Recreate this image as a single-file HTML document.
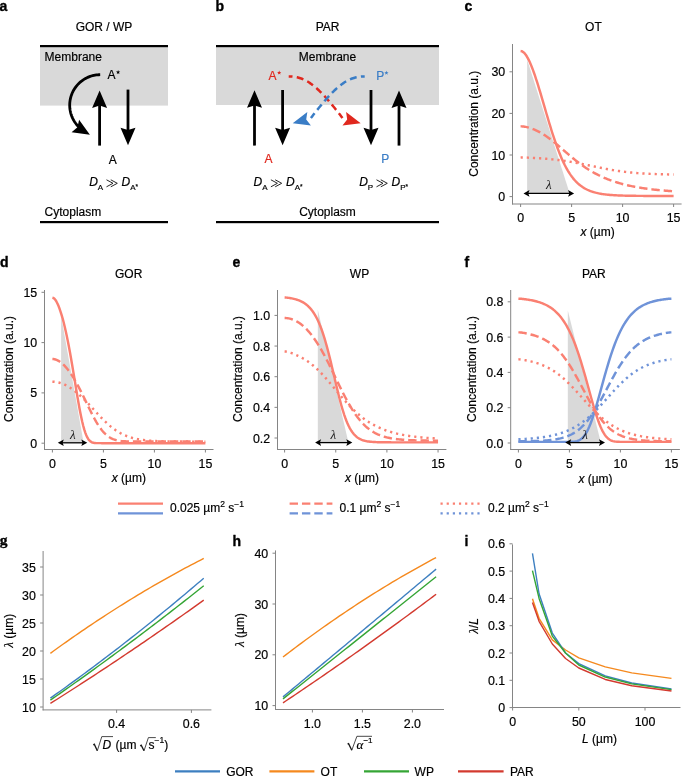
<!DOCTYPE html>
<html><head><meta charset="utf-8"><style>
html,body{margin:0;padding:0;background:#fff;}
svg{display:block;will-change:transform;}
</style></head><body>
<svg width="685" height="776" viewBox="0 0 685 776" font-family="Liberation Sans, sans-serif">
<rect width="685" height="776" fill="#fff"/>
<text x="-0.6" y="11.2" font-size="14" font-weight="bold" fill="#000" stroke="#000" stroke-width="0.35" stroke-linejoin="round" font-family="Liberation Sans">a</text>
<text x="104" y="31" font-size="12" text-anchor="middle" font-weight="normal" font-style="normal" fill="#000" stroke="#000" stroke-width="0.18" font-family="Liberation Sans" >GOR / WP</text>
<rect x="40" y="47" width="128" height="58.6" fill="#d9d9d9"/>
<rect x="40" y="45" width="128" height="2.2" fill="#000"/>
<rect x="40" y="221" width="128" height="2.2" fill="#000"/>
<text x="44.6" y="60.5" font-size="12" text-anchor="start" font-weight="normal" font-style="normal" fill="#000" stroke="#000" stroke-width="0.18" font-family="Liberation Sans" >Membrane</text>
<text x="107.5" y="79" font-size="12" text-anchor="start" font-weight="normal" font-style="normal" fill="#000" stroke="#000" stroke-width="0.18" font-family="Liberation Sans" >A</text>
<polygon points="118.1,70.05 118.66,71.53 120.24,71.6 119,72.59 119.42,74.12 118.1,73.25 116.78,74.12 117.2,72.59 115.96,71.6 117.54,71.53" fill="#000"/>
<path d="M100.2,74.7 L98.92,74.73 L97.64,74.81 L96.37,74.94 L95.1,75.13 L93.84,75.37 L92.59,75.66 L91.36,76.01 L90.14,76.41 L88.94,76.85 L87.76,77.35 L86.6,77.9 L85.47,78.49 L84.36,79.14 L83.28,79.82 L82.23,80.56 L81.21,81.33 L80.22,82.15 L79.27,83.01 L78.36,83.91 L77.49,84.85 L76.65,85.82 L75.86,86.82 L75.11,87.86 L74.4,88.93 L73.74,90.03 L73.13,91.15 L72.56,92.3 L72.04,93.47 L71.58,94.67 L71.16,95.88 L70.79,97.11 L70.48,98.35 L70.22,99.6 L70.01,100.87 L69.85,102.14 L69.75,103.41 L69.7,104.69 L69.71,105.98 L69.77,107.26 L69.88,108.53 L70.05,109.8 L70.27,111.06 L70.54,112.32 L70.87,113.55 L71.24,114.78 L71.67,115.99 L72.15,117.18 L72.68,118.34 L73.25,119.49 L73.88,120.61 L74.55,121.7 L75.26,122.76 L76.02,123.79 L76.82,124.79 L77.67,125.76 L78.55,126.68 L79.47,127.57 L80.43,128.42 L81.42,129.23" fill="none" stroke="#000" stroke-width="2.8" stroke-linecap="butt" stroke-linejoin="round" />
<polygon points="89.9,134.8 71.57,132.3 77.47,127.33 79.09,119.79" fill="#000"/>
<line x1="99.6" y1="145.6" x2="99.6" y2="105.1" stroke="#000" stroke-width="2.8" />
<polygon points="99.6,90.4 107.1,107.9 99.6,105.6 92.1,107.9" fill="#000"/>
<line x1="128" y1="89.6" x2="128" y2="130.5" stroke="#000" stroke-width="2.8" />
<polygon points="128,145.2 120.5,127.7 128,130 135.5,127.7" fill="#000"/>
<text x="108.8" y="163.6" font-size="12" text-anchor="start" font-weight="normal" font-style="normal" fill="#000" stroke="#000" stroke-width="0.18" font-family="Liberation Sans" >A</text>
<text x="89.2" y="186.2" font-size="12" text-anchor="start" font-weight="normal" font-style="normal" fill="#000" stroke="#000" stroke-width="0.18" font-family="Liberation Sans" ><tspan font-style="italic">D</tspan><tspan font-size="8" dy="3.4">A</tspan></text>
<path d="M106.5,179.8 L113,183.3 L106.5,186.8" fill="none" stroke="#1a1a1a" stroke-width="0.95" stroke-linejoin="miter"/>
<path d="M110.8,179.8 L117.3,183.3 L110.8,186.8" fill="none" stroke="#1a1a1a" stroke-width="0.95" stroke-linejoin="miter"/>
<text x="121.6" y="186.2" font-size="12" text-anchor="start" font-weight="normal" font-style="normal" fill="#000" stroke="#000" stroke-width="0.18" font-family="Liberation Sans" ><tspan font-style="italic">D</tspan><tspan font-size="8" dy="3.4">A</tspan><tspan font-size="6.5" dy="-0.4">*</tspan></text>
<text x="44.6" y="215.5" font-size="12" text-anchor="start" font-weight="normal" font-style="normal" fill="#000" stroke="#000" stroke-width="0.18" font-family="Liberation Sans" >Cytoplasm</text>
<text x="215.4" y="10.9" font-size="14" font-weight="bold" fill="#000" stroke="#000" stroke-width="0.35" stroke-linejoin="round" font-family="Liberation Sans">b</text>
<text x="327.6" y="31" font-size="12" text-anchor="middle" font-weight="normal" font-style="normal" fill="#000" stroke="#000" stroke-width="0.18" font-family="Liberation Sans" >PAR</text>
<rect x="216" y="47" width="223" height="58" fill="#d9d9d9"/>
<rect x="216" y="45" width="223" height="2.2" fill="#000"/>
<rect x="216" y="221" width="223" height="2.2" fill="#000"/>
<text x="327.5" y="60.5" font-size="12" text-anchor="middle" font-weight="normal" font-style="normal" fill="#000" stroke="#000" stroke-width="0.18" font-family="Liberation Sans" >Membrane</text>
<text x="268.5" y="80" font-size="12" text-anchor="start" font-weight="normal" font-style="normal" fill="#e0281e" stroke="#e0281e" stroke-width="0.18" font-family="Liberation Sans" >A</text>
<polygon points="279.2,70.55 279.76,72.03 281.34,72.1 280.1,73.09 280.52,74.62 279.2,73.75 277.88,74.62 278.3,73.09 277.06,72.1 278.64,72.03" fill="#e0281e"/>
<text x="376.2" y="80" font-size="12" text-anchor="start" font-weight="normal" font-style="normal" fill="#3a7dc6" stroke="#3a7dc6" stroke-width="0.18" font-family="Liberation Sans" >P</text>
<polygon points="386.4,70.65 386.96,72.13 388.54,72.2 387.3,73.19 387.72,74.72 386.4,73.85 385.08,74.72 385.5,73.19 384.26,72.2 385.84,72.13" fill="#3a7dc6"/>
<line x1="254.5" y1="145.6" x2="254.5" y2="104.9" stroke="#000" stroke-width="2.8" />
<polygon points="254.5,90.2 262,107.7 254.5,105.4 247,107.7" fill="#000"/>
<line x1="282.6" y1="90" x2="282.6" y2="130.5" stroke="#000" stroke-width="2.8" />
<polygon points="282.6,145.2 275.1,127.7 282.6,130 290.1,127.7" fill="#000"/>
<line x1="371" y1="90" x2="371" y2="130.5" stroke="#000" stroke-width="2.8" />
<polygon points="371,145.2 363.5,127.7 371,130 378.5,127.7" fill="#000"/>
<line x1="399" y1="145.6" x2="399" y2="105.1" stroke="#000" stroke-width="2.8" />
<polygon points="399,90.4 406.5,107.9 399,105.6 391.5,107.9" fill="#000"/>
<text x="264.6" y="163.4" font-size="12" text-anchor="start" font-weight="normal" font-style="normal" fill="#e0281e" stroke="#e0281e" stroke-width="0.18" font-family="Liberation Sans" >A</text>
<text x="381.2" y="163.4" font-size="12" text-anchor="start" font-weight="normal" font-style="normal" fill="#3a7dc6" stroke="#3a7dc6" stroke-width="0.18" font-family="Liberation Sans" >P</text>
<path d="M288.7,76.4 L289.58,76.41 L290.44,76.43 L291.3,76.48 L292.15,76.54 L292.99,76.61 L293.83,76.71 L294.66,76.83 L295.49,76.96 L296.31,77.12 L297.13,77.29 L297.94,77.48 L298.75,77.7 L299.55,77.94 L300.36,78.19 L301.16,78.47 L301.96,78.77 L302.76,79.1 L303.56,79.44 L304.36,79.81 L305.16,80.21 L305.96,80.63 L306.76,81.07 L307.57,81.53 L308.38,82.03 L309.19,82.54 L310.01,83.09 L310.83,83.66 L311.65,84.25 L312.48,84.88 L313.32,85.53 L314.16,86.21 L315.01,86.91 L315.87,87.65 L316.73,88.41 L317.61,89.21 L318.49,90.03 L319.38,90.88 L320.29,91.77 L321.2,92.68 L322.13,93.63 L323.06,94.6 L324.01,95.61 L324.97,96.65 L325.94,97.73 L326.93,98.83 L327.94,99.97 L328.95,101.15 L329.98,102.35 L331.03,103.6 L332.1,104.87 L333.18,106.19 L334.28,107.53 L335.39,108.92 L336.53,110.34 L337.68,111.8 L338.86,113.29 L340.05,114.82 L341.26,116.39 L342.5,118" fill="none" stroke="#e0281e" stroke-width="2.5" stroke-linecap="butt" stroke-linejoin="round" stroke-dasharray="3.8 4.3 7 4.3 7 4.3 7 4.3 7 4.3 7 4.3 7 4.3 7 4.3 7 4.3" />
<polygon points="360.7,123.2 342.47,125.56 347.18,119.58 346.09,112.04" fill="#e0281e"/>
<path d="M364.7,76.4 L363.82,76.41 L362.96,76.43 L362.1,76.48 L361.25,76.54 L360.41,76.61 L359.57,76.71 L358.74,76.83 L357.91,76.96 L357.09,77.12 L356.27,77.29 L355.46,77.48 L354.65,77.7 L353.85,77.94 L353.04,78.19 L352.24,78.47 L351.44,78.77 L350.64,79.1 L349.84,79.44 L349.04,79.81 L348.24,80.21 L347.44,80.63 L346.64,81.07 L345.83,81.53 L345.02,82.03 L344.21,82.54 L343.39,83.09 L342.57,83.66 L341.75,84.25 L340.92,84.88 L340.08,85.53 L339.24,86.21 L338.39,86.91 L337.53,87.65 L336.67,88.41 L335.79,89.21 L334.91,90.03 L334.02,90.88 L333.11,91.77 L332.2,92.68 L331.27,93.63 L330.34,94.6 L329.39,95.61 L328.43,96.65 L327.46,97.73 L326.47,98.83 L325.46,99.97 L324.45,101.15 L323.42,102.35 L322.37,103.6 L321.3,104.87 L320.22,106.19 L319.12,107.53 L318.01,108.92 L316.87,110.34 L315.72,111.8 L314.54,113.29 L313.35,114.82 L312.14,116.39 L310.9,118" fill="none" stroke="#3a7dc6" stroke-width="2.5" stroke-linecap="butt" stroke-linejoin="round" stroke-dasharray="3.8 4.3 7 4.3 7 4.3 7 4.3 7 4.3 7 4.3 7 4.3 7 4.3 7 4.3" />
<polygon points="292.7,123.2 307.31,112.04 306.22,119.58 310.93,125.56" fill="#3a7dc6"/>
<text x="253.6" y="186.2" font-size="12" text-anchor="start" font-weight="normal" font-style="normal" fill="#000" stroke="#000" stroke-width="0.18" font-family="Liberation Sans" ><tspan font-style="italic">D</tspan><tspan font-size="8" dy="3.4">A</tspan></text>
<path d="M270.9,179.8 L277.4,183.3 L270.9,186.8" fill="none" stroke="#1a1a1a" stroke-width="0.95" stroke-linejoin="miter"/>
<path d="M275.2,179.8 L281.7,183.3 L275.2,186.8" fill="none" stroke="#1a1a1a" stroke-width="0.95" stroke-linejoin="miter"/>
<text x="286" y="186.2" font-size="12" text-anchor="start" font-weight="normal" font-style="normal" fill="#000" stroke="#000" stroke-width="0.18" font-family="Liberation Sans" ><tspan font-style="italic">D</tspan><tspan font-size="8" dy="3.4">A</tspan><tspan font-size="6.5" dy="-0.4">*</tspan></text>
<text x="359.2" y="186.2" font-size="12" text-anchor="start" font-weight="normal" font-style="normal" fill="#000" stroke="#000" stroke-width="0.18" font-family="Liberation Sans" ><tspan font-style="italic">D</tspan><tspan font-size="8" dy="3.4">P</tspan></text>
<path d="M376.5,179.8 L383,183.3 L376.5,186.8" fill="none" stroke="#1a1a1a" stroke-width="0.95" stroke-linejoin="miter"/>
<path d="M380.8,179.8 L387.3,183.3 L380.8,186.8" fill="none" stroke="#1a1a1a" stroke-width="0.95" stroke-linejoin="miter"/>
<text x="391.6" y="186.2" font-size="12" text-anchor="start" font-weight="normal" font-style="normal" fill="#000" stroke="#000" stroke-width="0.18" font-family="Liberation Sans" ><tspan font-style="italic">D</tspan><tspan font-size="8" dy="3.4">P</tspan><tspan font-size="6.5" dy="-0.4">*</tspan></text>
<text x="327.5" y="215.5" font-size="12" text-anchor="middle" font-weight="normal" font-style="normal" fill="#000" stroke="#000" stroke-width="0.18" font-family="Liberation Sans" >Cytoplasm</text>
<text x="464.4" y="11.3" font-size="14" font-weight="bold" fill="#000" stroke="#000" stroke-width="0.35" stroke-linejoin="round" font-family="Liberation Sans">c</text>
<polygon points="527.1,59.4 527.1,193.4 569.7,193.4" fill="#d9d9d9"/>
<line x1="512.5" y1="44" x2="512.5" y2="204.5" stroke="#858585" stroke-width="1" />
<line x1="512" y1="204" x2="681.6" y2="204" stroke="#858585" stroke-width="1" />
<line x1="509.5" y1="196.6" x2="512.5" y2="196.6" stroke="#858585" stroke-width="1" />
<text x="505.2" y="201.1" font-size="12.4" text-anchor="end" font-weight="normal" font-style="normal" fill="#000" stroke="#000" stroke-width="0.18" font-family="Liberation Sans" >0</text>
<line x1="509.5" y1="155" x2="512.5" y2="155" stroke="#858585" stroke-width="1" />
<text x="505.2" y="159.5" font-size="12.4" text-anchor="end" font-weight="normal" font-style="normal" fill="#000" stroke="#000" stroke-width="0.18" font-family="Liberation Sans" >10</text>
<line x1="509.5" y1="113.4" x2="512.5" y2="113.4" stroke="#858585" stroke-width="1" />
<text x="505.2" y="117.9" font-size="12.4" text-anchor="end" font-weight="normal" font-style="normal" fill="#000" stroke="#000" stroke-width="0.18" font-family="Liberation Sans" >20</text>
<line x1="509.5" y1="71.8" x2="512.5" y2="71.8" stroke="#858585" stroke-width="1" />
<text x="505.2" y="76.3" font-size="12.4" text-anchor="end" font-weight="normal" font-style="normal" fill="#000" stroke="#000" stroke-width="0.18" font-family="Liberation Sans" >30</text>
<line x1="520.6" y1="204" x2="520.6" y2="207" stroke="#858585" stroke-width="1" />
<text x="520.6" y="222" font-size="12.4" text-anchor="middle" font-weight="normal" font-style="normal" fill="#000" stroke="#000" stroke-width="0.18" font-family="Liberation Sans" >0</text>
<line x1="571.6" y1="204" x2="571.6" y2="207" stroke="#858585" stroke-width="1" />
<text x="571.6" y="222" font-size="12.4" text-anchor="middle" font-weight="normal" font-style="normal" fill="#000" stroke="#000" stroke-width="0.18" font-family="Liberation Sans" >5</text>
<line x1="622.6" y1="204" x2="622.6" y2="207" stroke="#858585" stroke-width="1" />
<text x="622.6" y="222" font-size="12.4" text-anchor="middle" font-weight="normal" font-style="normal" fill="#000" stroke="#000" stroke-width="0.18" font-family="Liberation Sans" >10</text>
<line x1="673.6" y1="204" x2="673.6" y2="207" stroke="#858585" stroke-width="1" />
<text x="673.6" y="222" font-size="12.4" text-anchor="middle" font-weight="normal" font-style="normal" fill="#000" stroke="#000" stroke-width="0.18" font-family="Liberation Sans" >15</text>
<text transform="translate(478,123.7) rotate(-90)" font-size="12" text-anchor="middle" fill="#000" stroke="#000" stroke-width="0.18" font-family="Liberation Sans">Concentration (a.u.)</text>
<text x="597.6" y="236.4" font-size="12" text-anchor="middle" font-weight="normal" font-style="normal" fill="#000" stroke="#000" stroke-width="0.18" font-family="Liberation Sans" ><tspan font-style="italic">x</tspan> (µm)</text>
<text x="593.4" y="31" font-size="12" text-anchor="middle" font-weight="normal" font-style="normal" fill="#000" stroke="#000" stroke-width="0.18" font-family="Liberation Sans" >OT</text>
<path d="M520.6,157.4 L521.63,157.41 L522.65,157.43 L523.68,157.46 L524.71,157.49 L525.73,157.53 L526.76,157.58 L527.79,157.63 L528.81,157.68 L529.84,157.73 L530.87,157.78 L531.9,157.83 L532.92,157.89 L533.95,157.95 L534.98,158.01 L536,158.07 L537.03,158.13 L538.06,158.2 L539.08,158.26 L540.11,158.33 L541.14,158.41 L542.16,158.48 L543.19,158.56 L544.22,158.64 L545.24,158.72 L546.27,158.81 L547.3,158.9 L548.32,158.99 L549.35,159.08 L550.38,159.18 L551.41,159.28 L552.43,159.39 L553.46,159.5 L554.49,159.61 L555.51,159.72 L556.54,159.84 L557.57,159.97 L558.59,160.09 L559.62,160.22 L560.65,160.36 L561.67,160.49 L562.7,160.64 L563.73,160.78 L564.75,160.93 L565.78,161.08 L566.81,161.24 L567.83,161.4 L568.86,161.56 L569.89,161.73 L570.92,161.9 L571.94,162.08 L572.97,162.25 L574,162.44 L575.02,162.62 L576.05,162.81 L577.08,163 L578.1,163.19 L579.13,163.39 L580.16,163.59 L581.18,163.79 L582.21,164 L583.24,164.2 L584.26,164.41 L585.29,164.62 L586.32,164.83 L587.34,165.04 L588.37,165.26 L589.4,165.47 L590.43,165.69 L591.45,165.9 L592.48,166.12 L593.51,166.34 L594.53,166.55 L595.56,166.77 L596.59,166.98 L597.61,167.19 L598.64,167.4 L599.67,167.61 L600.69,167.82 L601.72,168.03 L602.75,168.23 L603.77,168.44 L604.8,168.64 L605.83,168.83 L606.86,169.03 L607.88,169.22 L608.91,169.41 L609.94,169.59 L610.96,169.77 L611.99,169.95 L613.02,170.12 L614.04,170.29 L615.07,170.46 L616.1,170.62 L617.12,170.78 L618.15,170.93 L619.18,171.08 L620.2,171.23 L621.23,171.37 L622.26,171.51 L623.28,171.64 L624.31,171.77 L625.34,171.9 L626.37,172.02 L627.39,172.13 L628.42,172.25 L629.45,172.36 L630.47,172.46 L631.5,172.57 L632.53,172.66 L633.55,172.76 L634.58,172.85 L635.61,172.94 L636.63,173.02 L637.66,173.1 L638.69,173.18 L639.71,173.26 L640.74,173.33 L641.77,173.4 L642.79,173.46 L643.82,173.53 L644.85,173.59 L645.88,173.64 L646.9,173.7 L647.93,173.75 L648.96,173.8 L649.98,173.85 L651.01,173.9 L652.04,173.94 L653.06,173.98 L654.09,174.02 L655.12,174.06 L656.14,174.1 L657.17,174.13 L658.2,174.17 L659.22,174.2 L660.25,174.23 L661.28,174.26 L662.3,174.29 L663.33,174.31 L664.36,174.34 L665.39,174.36 L666.41,174.38 L667.44,174.4 L668.47,174.42 L669.49,174.44 L670.52,174.46 L671.55,174.48 L672.57,174.5 L673.6,174.51" fill="none" stroke="#fa8072" stroke-width="2.45" stroke-linecap="butt" stroke-linejoin="round" stroke-dasharray="2.2 3.95" />
<path d="M520.6,126.32 L521.63,126.35 L522.65,126.42 L523.68,126.54 L524.71,126.7 L525.73,126.89 L526.76,127.12 L527.79,127.38 L528.81,127.66 L529.84,127.97 L530.87,128.31 L531.9,128.67 L532.92,129.06 L533.95,129.47 L534.98,129.9 L536,130.36 L537.03,130.84 L538.06,131.34 L539.08,131.87 L540.11,132.43 L541.14,133.01 L542.16,133.61 L543.19,134.23 L544.22,134.88 L545.24,135.55 L546.27,136.24 L547.3,136.95 L548.32,137.69 L549.35,138.44 L550.38,139.21 L551.41,140 L552.43,140.81 L553.46,141.63 L554.49,142.46 L555.51,143.31 L556.54,144.17 L557.57,145.04 L558.59,145.91 L559.62,146.79 L560.65,147.68 L561.67,148.57 L562.7,149.46 L563.73,150.36 L564.75,151.25 L565.78,152.14 L566.81,153.03 L567.83,153.92 L568.86,154.8 L569.89,155.67 L570.92,156.53 L571.94,157.39 L572.97,158.24 L574,159.07 L575.02,159.9 L576.05,160.72 L577.08,161.52 L578.1,162.31 L579.13,163.09 L580.16,163.85 L581.18,164.61 L582.21,165.34 L583.24,166.07 L584.26,166.78 L585.29,167.47 L586.32,168.15 L587.34,168.82 L588.37,169.47 L589.4,170.11 L590.43,170.73 L591.45,171.34 L592.48,171.93 L593.51,172.52 L594.53,173.08 L595.56,173.64 L596.59,174.18 L597.61,174.7 L598.64,175.22 L599.67,175.72 L600.69,176.2 L601.72,176.68 L602.75,177.14 L603.77,177.59 L604.8,178.03 L605.83,178.46 L606.86,178.88 L607.88,179.29 L608.91,179.68 L609.94,180.07 L610.96,180.44 L611.99,180.81 L613.02,181.16 L614.04,181.51 L615.07,181.84 L616.1,182.17 L617.12,182.49 L618.15,182.79 L619.18,183.1 L620.2,183.39 L621.23,183.67 L622.26,183.95 L623.28,184.22 L624.31,184.48 L625.34,184.74 L626.37,184.98 L627.39,185.22 L628.42,185.46 L629.45,185.68 L630.47,185.91 L631.5,186.12 L632.53,186.33 L633.55,186.53 L634.58,186.73 L635.61,186.92 L636.63,187.11 L637.66,187.29 L638.69,187.47 L639.71,187.64 L640.74,187.81 L641.77,187.97 L642.79,188.13 L643.82,188.28 L644.85,188.43 L645.88,188.57 L646.9,188.72 L647.93,188.85 L648.96,188.99 L649.98,189.11 L651.01,189.24 L652.04,189.36 L653.06,189.48 L654.09,189.6 L655.12,189.71 L656.14,189.82 L657.17,189.92 L658.2,190.03 L659.22,190.13 L660.25,190.23 L661.28,190.32 L662.3,190.41 L663.33,190.5 L664.36,190.59 L665.39,190.67 L666.41,190.75 L667.44,190.83 L668.47,190.91 L669.49,190.99 L670.52,191.06 L671.55,191.13 L672.57,191.2 L673.6,191.27" fill="none" stroke="#fa8072" stroke-width="2.45" stroke-linecap="butt" stroke-linejoin="round" stroke-dasharray="8.4 3.95" />
<path d="M520.6,51.06 L521.63,51.21 L522.65,51.67 L523.68,52.41 L524.71,53.45 L525.73,54.75 L526.76,56.3 L527.79,58.08 L528.81,60.08 L529.84,62.28 L530.87,64.66 L531.9,67.21 L532.92,69.91 L533.95,72.75 L534.98,75.71 L536,78.79 L537.03,81.97 L538.06,85.23 L539.08,88.57 L540.11,91.96 L541.14,95.41 L542.16,98.9 L543.19,102.41 L544.22,105.93 L545.24,109.45 L546.27,112.97 L547.3,116.46 L548.32,119.92 L549.35,123.34 L550.38,126.71 L551.41,130.02 L552.43,133.26 L553.46,136.42 L554.49,139.5 L555.51,142.5 L556.54,145.4 L557.57,148.21 L558.59,150.92 L559.62,153.52 L560.65,156.02 L561.67,158.42 L562.7,160.71 L563.73,162.89 L564.75,164.97 L565.78,166.95 L566.81,168.83 L567.83,170.6 L568.86,172.28 L569.89,173.87 L570.92,175.37 L571.94,176.78 L572.97,178.1 L574,179.35 L575.02,180.51 L576.05,181.61 L577.08,182.63 L578.1,183.59 L579.13,184.48 L580.16,185.32 L581.18,186.1 L582.21,186.82 L583.24,187.5 L584.26,188.13 L585.29,188.71 L586.32,189.25 L587.34,189.76 L588.37,190.23 L589.4,190.66 L590.43,191.06 L591.45,191.44 L592.48,191.78 L593.51,192.1 L594.53,192.4 L595.56,192.68 L596.59,192.93 L597.61,193.16 L598.64,193.38 L599.67,193.58 L600.69,193.77 L601.72,193.94 L602.75,194.1 L603.77,194.24 L604.8,194.38 L605.83,194.5 L606.86,194.62 L607.88,194.73 L608.91,194.82 L609.94,194.91 L610.96,195 L611.99,195.07 L613.02,195.14 L614.04,195.21 L615.07,195.27 L616.1,195.33 L617.12,195.38 L618.15,195.42 L619.18,195.47 L620.2,195.51 L621.23,195.55 L622.26,195.58 L623.28,195.61 L624.31,195.64 L625.34,195.67 L626.37,195.69 L627.39,195.71 L628.42,195.73 L629.45,195.75 L630.47,195.77 L631.5,195.79 L632.53,195.8 L633.55,195.82 L634.58,195.83 L635.61,195.84 L636.63,195.85 L637.66,195.86 L638.69,195.87 L639.71,195.88 L640.74,195.89 L641.77,195.89 L642.79,195.9 L643.82,195.91 L644.85,195.91 L645.88,195.92 L646.9,195.92 L647.93,195.93 L648.96,195.93 L649.98,195.93 L651.01,195.94 L652.04,195.94 L653.06,195.94 L654.09,195.95 L655.12,195.95 L656.14,195.95 L657.17,195.95 L658.2,195.96 L659.22,195.96 L660.25,195.96 L661.28,195.96 L662.3,195.96 L663.33,195.96 L664.36,195.96 L665.39,195.96 L666.41,195.97 L667.44,195.97 L668.47,195.97 L669.49,195.97 L670.52,195.97 L671.55,195.97 L672.57,195.97 L673.6,195.97" fill="none" stroke="#fa8072" stroke-width="2.45" stroke-linecap="butt" stroke-linejoin="round" />
<line x1="527.5" y1="193.4" x2="570.1" y2="193.4" stroke="#000" stroke-width="1.3" />
<polygon points="523.5,193.4 529.5,190.1 528.3,193.4 529.5,196.7" fill="#000"/>
<polygon points="574.1,193.4 568.1,196.7 569.3,193.4 568.1,190.1" fill="#000"/>
<text x="548.9" y="189" font-size="13" text-anchor="middle" font-style="italic" fill="#1a1a1a" font-family="Liberation Serif">λ</text>
<text x="-0.1" y="267.1" font-size="14" font-weight="bold" fill="#000" stroke="#000" stroke-width="0.35" stroke-linejoin="round" font-family="Liberation Sans">d</text>
<polygon points="61.1,315.8 61.1,442.8 83.6,442.8" fill="#d9d9d9"/>
<line x1="44.5" y1="290" x2="44.5" y2="450" stroke="#858585" stroke-width="1" />
<line x1="44" y1="449.5" x2="213.5" y2="449.5" stroke="#858585" stroke-width="1" />
<line x1="41.5" y1="443.2" x2="44.5" y2="443.2" stroke="#858585" stroke-width="1" />
<text x="37.2" y="447.7" font-size="12.4" text-anchor="end" font-weight="normal" font-style="normal" fill="#000" stroke="#000" stroke-width="0.18" font-family="Liberation Sans" >0</text>
<line x1="41.5" y1="392.9" x2="44.5" y2="392.9" stroke="#858585" stroke-width="1" />
<text x="37.2" y="397.4" font-size="12.4" text-anchor="end" font-weight="normal" font-style="normal" fill="#000" stroke="#000" stroke-width="0.18" font-family="Liberation Sans" >5</text>
<line x1="41.5" y1="342.6" x2="44.5" y2="342.6" stroke="#858585" stroke-width="1" />
<text x="37.2" y="347.1" font-size="12.4" text-anchor="end" font-weight="normal" font-style="normal" fill="#000" stroke="#000" stroke-width="0.18" font-family="Liberation Sans" >10</text>
<line x1="41.5" y1="292.3" x2="44.5" y2="292.3" stroke="#858585" stroke-width="1" />
<text x="37.2" y="296.8" font-size="12.4" text-anchor="end" font-weight="normal" font-style="normal" fill="#000" stroke="#000" stroke-width="0.18" font-family="Liberation Sans" >15</text>
<line x1="52.4" y1="449.5" x2="52.4" y2="452.5" stroke="#858585" stroke-width="1" />
<text x="52.4" y="467.5" font-size="12.4" text-anchor="middle" font-weight="normal" font-style="normal" fill="#000" stroke="#000" stroke-width="0.18" font-family="Liberation Sans" >0</text>
<line x1="103.4" y1="449.5" x2="103.4" y2="452.5" stroke="#858585" stroke-width="1" />
<text x="103.4" y="467.5" font-size="12.4" text-anchor="middle" font-weight="normal" font-style="normal" fill="#000" stroke="#000" stroke-width="0.18" font-family="Liberation Sans" >5</text>
<line x1="154.4" y1="449.5" x2="154.4" y2="452.5" stroke="#858585" stroke-width="1" />
<text x="154.4" y="467.5" font-size="12.4" text-anchor="middle" font-weight="normal" font-style="normal" fill="#000" stroke="#000" stroke-width="0.18" font-family="Liberation Sans" >10</text>
<line x1="205.4" y1="449.5" x2="205.4" y2="452.5" stroke="#858585" stroke-width="1" />
<text x="205.4" y="467.5" font-size="12.4" text-anchor="middle" font-weight="normal" font-style="normal" fill="#000" stroke="#000" stroke-width="0.18" font-family="Liberation Sans" >15</text>
<text transform="translate(13.2,369) rotate(-90)" font-size="12" text-anchor="middle" fill="#000" stroke="#000" stroke-width="0.18" font-family="Liberation Sans">Concentration (a.u.)</text>
<text x="128.9" y="482.4" font-size="12" text-anchor="middle" font-weight="normal" font-style="normal" fill="#000" stroke="#000" stroke-width="0.18" font-family="Liberation Sans" ><tspan font-style="italic">x</tspan> (µm)</text>
<text x="128.7" y="277.6" font-size="12" text-anchor="middle" font-weight="normal" font-style="normal" fill="#000" stroke="#000" stroke-width="0.18" font-family="Liberation Sans" >GOR</text>
<path d="M52.4,381.67 L53.43,381.7 L54.45,381.76 L55.48,381.87 L56.51,382.03 L57.53,382.23 L58.56,382.47 L59.59,382.74 L60.61,383.06 L61.64,383.42 L62.67,383.81 L63.7,384.24 L64.72,384.71 L65.75,385.21 L66.78,385.74 L67.8,386.31 L68.83,386.91 L69.86,387.54 L70.88,388.2 L71.91,388.89 L72.94,389.62 L73.96,390.38 L74.99,391.16 L76.02,391.97 L77.04,392.82 L78.07,393.69 L79.1,394.59 L80.12,395.51 L81.15,396.46 L82.18,397.43 L83.21,398.42 L84.23,399.44 L85.26,400.47 L86.29,401.53 L87.31,402.6 L88.34,403.68 L89.37,404.77 L90.39,405.88 L91.42,406.99 L92.45,408.11 L93.47,409.23 L94.5,410.35 L95.53,411.48 L96.55,412.59 L97.58,413.71 L98.61,414.81 L99.63,415.9 L100.66,416.98 L101.69,418.05 L102.72,419.1 L103.74,420.13 L104.77,421.14 L105.8,422.12 L106.82,423.08 L107.85,424.02 L108.88,424.93 L109.9,425.81 L110.93,426.67 L111.96,427.49 L112.98,428.29 L114.01,429.05 L115.04,429.78 L116.06,430.49 L117.09,431.16 L118.12,431.8 L119.14,432.42 L120.17,433 L121.2,433.55 L122.23,434.08 L123.25,434.58 L124.28,435.05 L125.31,435.49 L126.33,435.91 L127.36,436.31 L128.39,436.68 L129.41,437.03 L130.44,437.35 L131.47,437.66 L132.49,437.95 L133.52,438.22 L134.55,438.47 L135.57,438.7 L136.6,438.92 L137.63,439.12 L138.66,439.31 L139.68,439.49 L140.71,439.65 L141.74,439.81 L142.76,439.95 L143.79,440.08 L144.82,440.2 L145.84,440.31 L146.87,440.41 L147.9,440.51 L148.92,440.6 L149.95,440.68 L150.98,440.76 L152,440.83 L153.03,440.89 L154.06,440.95 L155.08,441.01 L156.11,441.06 L157.14,441.1 L158.17,441.15 L159.19,441.18 L160.22,441.22 L161.25,441.25 L162.27,441.29 L163.3,441.31 L164.33,441.34 L165.35,441.36 L166.38,441.39 L167.41,441.41 L168.43,441.42 L169.46,441.44 L170.49,441.46 L171.51,441.47 L172.54,441.48 L173.57,441.5 L174.59,441.51 L175.62,441.52 L176.65,441.53 L177.68,441.54 L178.7,441.54 L179.73,441.55 L180.76,441.56 L181.78,441.56 L182.81,441.57 L183.84,441.57 L184.86,441.58 L185.89,441.58 L186.92,441.59 L187.94,441.59 L188.97,441.59 L190,441.6 L191.02,441.6 L192.05,441.6 L193.08,441.6 L194.1,441.61 L195.13,441.61 L196.16,441.61 L197.19,441.61 L198.21,441.61 L199.24,441.61 L200.27,441.62 L201.29,441.62 L202.32,441.62 L203.35,441.62 L204.37,441.62 L205.4,441.62" fill="none" stroke="#fa8072" stroke-width="2.45" stroke-linecap="butt" stroke-linejoin="round" stroke-dasharray="2.2 3.95" />
<path d="M52.4,359.02 L53.43,359.07 L54.45,359.23 L55.48,359.49 L56.51,359.85 L57.53,360.31 L58.56,360.86 L59.59,361.5 L60.61,362.23 L61.64,363.04 L62.67,363.93 L63.7,364.9 L64.72,365.95 L65.75,367.08 L66.78,368.28 L67.8,369.55 L68.83,370.89 L69.86,372.3 L70.88,373.78 L71.91,375.33 L72.94,376.94 L73.96,378.61 L74.99,380.35 L76.02,382.15 L77.04,383.99 L78.07,385.9 L79.1,387.84 L80.12,389.84 L81.15,391.87 L82.18,393.93 L83.21,396.02 L84.23,398.13 L85.26,400.26 L86.29,402.39 L87.31,404.52 L88.34,406.64 L89.37,408.74 L90.39,410.82 L91.42,412.87 L92.45,414.88 L93.47,416.83 L94.5,418.73 L95.53,420.57 L96.55,422.34 L97.58,424.03 L98.61,425.64 L99.63,427.17 L100.66,428.6 L101.69,429.95 L102.72,431.21 L103.74,432.37 L104.77,433.45 L105.8,434.43 L106.82,435.33 L107.85,436.14 L108.88,436.87 L109.9,437.52 L110.93,438.1 L111.96,438.61 L112.98,439.06 L114.01,439.45 L115.04,439.79 L116.06,440.09 L117.09,440.34 L118.12,440.55 L119.14,440.74 L120.17,440.89 L121.2,441.02 L122.23,441.12 L123.25,441.21 L124.28,441.28 L125.31,441.34 L126.33,441.39 L127.36,441.43 L128.39,441.46 L129.41,441.49 L130.44,441.51 L131.47,441.53 L132.49,441.54 L133.52,441.55 L134.55,441.56 L135.57,441.56 L136.6,441.57 L137.63,441.57 L138.66,441.58 L139.68,441.58 L140.71,441.58 L141.74,441.58 L142.76,441.58 L143.79,441.58 L144.82,441.58 L145.84,441.59 L146.87,441.59 L147.9,441.59 L148.92,441.59 L149.95,441.59 L150.98,441.59 L152,441.59 L153.03,441.59 L154.06,441.59 L155.08,441.59 L156.11,441.59 L157.14,441.59 L158.17,441.59 L159.19,441.59 L160.22,441.59 L161.25,441.59 L162.27,441.59 L163.3,441.59 L164.33,441.59 L165.35,441.59 L166.38,441.59 L167.41,441.59 L168.43,441.59 L169.46,441.59 L170.49,441.59 L171.51,441.59 L172.54,441.59 L173.57,441.59 L174.59,441.59 L175.62,441.59 L176.65,441.59 L177.68,441.59 L178.7,441.59 L179.73,441.59 L180.76,441.59 L181.78,441.59 L182.81,441.59 L183.84,441.59 L184.86,441.59 L185.89,441.59 L186.92,441.59 L187.94,441.59 L188.97,441.59 L190,441.59 L191.02,441.59 L192.05,441.59 L193.08,441.59 L194.1,441.59 L195.13,441.59 L196.16,441.59 L197.19,441.59 L198.21,441.59 L199.24,441.59 L200.27,441.59 L201.29,441.59 L202.32,441.59 L203.35,441.59 L204.37,441.59 L205.4,441.59" fill="none" stroke="#fa8072" stroke-width="2.45" stroke-linecap="butt" stroke-linejoin="round" stroke-dasharray="8.4 3.95" />
<path d="M52.4,297.71 L53.43,297.97 L54.45,298.76 L55.48,300.01 L56.51,301.68 L57.53,303.71 L58.56,306.09 L59.59,308.77 L60.61,311.77 L61.64,315.06 L62.67,318.65 L63.7,322.54 L64.72,326.71 L65.75,331.19 L66.78,335.94 L67.8,340.98 L68.83,346.27 L69.86,351.81 L70.88,357.58 L71.91,363.53 L72.94,369.62 L73.96,375.82 L74.99,382.07 L76.02,388.3 L77.04,394.44 L78.07,400.44 L79.1,406.21 L80.12,411.69 L81.15,416.8 L82.18,421.48 L83.21,425.7 L84.23,429.41 L85.26,432.6 L86.29,435.27 L87.31,437.44 L88.34,439.15 L89.37,440.45 L90.39,441.4 L91.42,442.07 L92.45,442.51 L93.47,442.79 L94.5,442.96 L95.53,443.06 L96.55,443.11 L97.58,443.13 L98.61,443.14 L99.63,443.14 L100.66,443.15 L101.69,443.15 L102.72,443.15 L103.74,443.15 L104.77,443.15 L105.8,443.15 L106.82,443.15 L107.85,443.15 L108.88,443.15 L109.9,443.15 L110.93,443.15 L111.96,443.15 L112.98,443.15 L114.01,443.15 L115.04,443.15 L116.06,443.15 L117.09,443.15 L118.12,443.15 L119.14,443.15 L120.17,443.15 L121.2,443.15 L122.23,443.15 L123.25,443.15 L124.28,443.15 L125.31,443.15 L126.33,443.15 L127.36,443.15 L128.39,443.15 L129.41,443.15 L130.44,443.15 L131.47,443.15 L132.49,443.15 L133.52,443.15 L134.55,443.15 L135.57,443.15 L136.6,443.15 L137.63,443.15 L138.66,443.15 L139.68,443.15 L140.71,443.15 L141.74,443.15 L142.76,443.15 L143.79,443.15 L144.82,443.15 L145.84,443.15 L146.87,443.15 L147.9,443.15 L148.92,443.15 L149.95,443.15 L150.98,443.15 L152,443.15 L153.03,443.15 L154.06,443.15 L155.08,443.15 L156.11,443.15 L157.14,443.15 L158.17,443.15 L159.19,443.15 L160.22,443.15 L161.25,443.15 L162.27,443.15 L163.3,443.15 L164.33,443.15 L165.35,443.15 L166.38,443.15 L167.41,443.15 L168.43,443.15 L169.46,443.15 L170.49,443.15 L171.51,443.15 L172.54,443.15 L173.57,443.15 L174.59,443.15 L175.62,443.15 L176.65,443.15 L177.68,443.15 L178.7,443.15 L179.73,443.15 L180.76,443.15 L181.78,443.15 L182.81,443.15 L183.84,443.15 L184.86,443.15 L185.89,443.15 L186.92,443.15 L187.94,443.15 L188.97,443.15 L190,443.15 L191.02,443.15 L192.05,443.15 L193.08,443.15 L194.1,443.15 L195.13,443.15 L196.16,443.15 L197.19,443.15 L198.21,443.15 L199.24,443.15 L200.27,443.15 L201.29,443.15 L202.32,443.15 L203.35,443.15 L204.37,443.15 L205.4,443.15" fill="none" stroke="#fa8072" stroke-width="2.45" stroke-linecap="butt" stroke-linejoin="round" />
<line x1="61.8" y1="442.8" x2="83.3" y2="442.8" stroke="#000" stroke-width="1.3" />
<polygon points="57.8,442.8 63.8,439.5 62.6,442.8 63.8,446.1" fill="#000"/>
<polygon points="87.3,442.8 81.3,446.1 82.5,442.8 81.3,439.5" fill="#000"/>
<text x="72.9" y="439" font-size="13" text-anchor="middle" font-style="italic" fill="#1a1a1a" font-family="Liberation Serif">λ</text>
<text x="232.6" y="267.2" font-size="14" font-weight="bold" fill="#000" stroke="#000" stroke-width="0.35" stroke-linejoin="round" font-family="Liberation Sans">e</text>
<polygon points="317.8,309.6 317.8,442.6 348.4,442.6" fill="#d9d9d9"/>
<line x1="277.5" y1="290" x2="277.5" y2="450" stroke="#858585" stroke-width="1" />
<line x1="277" y1="449.5" x2="446.4" y2="449.5" stroke="#858585" stroke-width="1" />
<line x1="274.5" y1="438" x2="277.5" y2="438" stroke="#858585" stroke-width="1" />
<text x="270.2" y="442.5" font-size="12.4" text-anchor="end" font-weight="normal" font-style="normal" fill="#000" stroke="#000" stroke-width="0.18" font-family="Liberation Sans" >0.2</text>
<line x1="274.5" y1="407.35" x2="277.5" y2="407.35" stroke="#858585" stroke-width="1" />
<text x="270.2" y="411.85" font-size="12.4" text-anchor="end" font-weight="normal" font-style="normal" fill="#000" stroke="#000" stroke-width="0.18" font-family="Liberation Sans" >0.4</text>
<line x1="274.5" y1="376.7" x2="277.5" y2="376.7" stroke="#858585" stroke-width="1" />
<text x="270.2" y="381.2" font-size="12.4" text-anchor="end" font-weight="normal" font-style="normal" fill="#000" stroke="#000" stroke-width="0.18" font-family="Liberation Sans" >0.6</text>
<line x1="274.5" y1="346.05" x2="277.5" y2="346.05" stroke="#858585" stroke-width="1" />
<text x="270.2" y="350.55" font-size="12.4" text-anchor="end" font-weight="normal" font-style="normal" fill="#000" stroke="#000" stroke-width="0.18" font-family="Liberation Sans" >0.8</text>
<line x1="274.5" y1="315.4" x2="277.5" y2="315.4" stroke="#858585" stroke-width="1" />
<text x="270.2" y="319.9" font-size="12.4" text-anchor="end" font-weight="normal" font-style="normal" fill="#000" stroke="#000" stroke-width="0.18" font-family="Liberation Sans" >1.0</text>
<line x1="284.6" y1="449.5" x2="284.6" y2="452.5" stroke="#858585" stroke-width="1" />
<text x="284.6" y="467.5" font-size="12.4" text-anchor="middle" font-weight="normal" font-style="normal" fill="#000" stroke="#000" stroke-width="0.18" font-family="Liberation Sans" >0</text>
<line x1="335.75" y1="449.5" x2="335.75" y2="452.5" stroke="#858585" stroke-width="1" />
<text x="335.75" y="467.5" font-size="12.4" text-anchor="middle" font-weight="normal" font-style="normal" fill="#000" stroke="#000" stroke-width="0.18" font-family="Liberation Sans" >5</text>
<line x1="386.9" y1="449.5" x2="386.9" y2="452.5" stroke="#858585" stroke-width="1" />
<text x="386.9" y="467.5" font-size="12.4" text-anchor="middle" font-weight="normal" font-style="normal" fill="#000" stroke="#000" stroke-width="0.18" font-family="Liberation Sans" >10</text>
<line x1="438.05" y1="449.5" x2="438.05" y2="452.5" stroke="#858585" stroke-width="1" />
<text x="438.05" y="467.5" font-size="12.4" text-anchor="middle" font-weight="normal" font-style="normal" fill="#000" stroke="#000" stroke-width="0.18" font-family="Liberation Sans" >15</text>
<text transform="translate(241.8,369) rotate(-90)" font-size="12" text-anchor="middle" fill="#000" stroke="#000" stroke-width="0.18" font-family="Liberation Sans">Concentration (a.u.)</text>
<text x="362" y="482.4" font-size="12" text-anchor="middle" font-weight="normal" font-style="normal" fill="#000" stroke="#000" stroke-width="0.18" font-family="Liberation Sans" ><tspan font-style="italic">x</tspan> (µm)</text>
<text x="359.5" y="277.6" font-size="12" text-anchor="middle" font-weight="normal" font-style="normal" fill="#000" stroke="#000" stroke-width="0.18" font-family="Liberation Sans" >WP</text>
<path d="M284.6,351.49 L285.63,351.55 L286.66,351.7 L287.69,351.92 L288.72,352.19 L289.75,352.5 L290.78,352.84 L291.81,353.2 L292.84,353.58 L293.87,353.98 L294.9,354.4 L295.93,354.84 L296.96,355.3 L297.99,355.77 L299.02,356.27 L300.05,356.79 L301.08,357.32 L302.11,357.89 L303.14,358.47 L304.17,359.08 L305.2,359.72 L306.23,360.38 L307.26,361.07 L308.29,361.78 L309.32,362.53 L310.35,363.3 L311.38,364.1 L312.41,364.93 L313.44,365.79 L314.47,366.68 L315.5,367.6 L316.53,368.54 L317.56,369.51 L318.59,370.51 L319.62,371.53 L320.65,372.58 L321.68,373.65 L322.71,374.75 L323.73,375.86 L324.76,377 L325.79,378.15 L326.82,379.33 L327.85,380.51 L328.88,381.72 L329.91,382.93 L330.94,384.15 L331.97,385.38 L333,386.62 L334.03,387.86 L335.06,389.1 L336.09,390.34 L337.12,391.58 L338.15,392.82 L339.18,394.05 L340.21,395.27 L341.24,396.49 L342.27,397.69 L343.3,398.88 L344.33,400.06 L345.36,401.22 L346.39,402.37 L347.42,403.5 L348.45,404.61 L349.48,405.7 L350.51,406.77 L351.54,407.82 L352.57,408.85 L353.6,409.86 L354.63,410.84 L355.66,411.81 L356.69,412.74 L357.72,413.66 L358.75,414.55 L359.78,415.42 L360.81,416.26 L361.84,417.08 L362.87,417.88 L363.9,418.66 L364.93,419.41 L365.96,420.14 L366.99,420.84 L368.02,421.53 L369.05,422.19 L370.08,422.83 L371.11,423.46 L372.14,424.06 L373.17,424.64 L374.2,425.2 L375.23,425.74 L376.26,426.27 L377.29,426.77 L378.32,427.26 L379.35,427.73 L380.38,428.19 L381.41,428.63 L382.44,429.05 L383.47,429.46 L384.5,429.85 L385.53,430.23 L386.56,430.6 L387.59,430.95 L388.62,431.29 L389.65,431.61 L390.68,431.93 L391.71,432.23 L392.74,432.52 L393.77,432.8 L394.8,433.07 L395.83,433.33 L396.86,433.59 L397.89,433.83 L398.92,434.06 L399.94,434.28 L400.97,434.5 L402,434.7 L403.03,434.9 L404.06,435.09 L405.09,435.27 L406.12,435.45 L407.15,435.62 L408.18,435.78 L409.21,435.94 L410.24,436.09 L411.27,436.24 L412.3,436.38 L413.33,436.51 L414.36,436.64 L415.39,436.76 L416.42,436.88 L417.45,437 L418.48,437.11 L419.51,437.21 L420.54,437.32 L421.57,437.41 L422.6,437.51 L423.63,437.6 L424.66,437.69 L425.69,437.77 L426.72,437.85 L427.75,437.93 L428.78,438 L429.81,438.07 L430.84,438.14 L431.87,438.21 L432.9,438.27 L433.93,438.33 L434.96,438.39 L435.99,438.45 L437.02,438.5 L438.05,438.55" fill="none" stroke="#fa8072" stroke-width="2.45" stroke-linecap="butt" stroke-linejoin="round" stroke-dasharray="2.2 3.95" />
<path d="M284.6,318.02 L285.63,318.04 L286.66,318.12 L287.69,318.24 L288.72,318.41 L289.75,318.63 L290.78,318.9 L291.81,319.22 L292.84,319.59 L293.87,320.01 L294.9,320.47 L295.93,320.99 L296.96,321.55 L297.99,322.17 L299.02,322.83 L300.05,323.54 L301.08,324.31 L302.11,325.12 L303.14,325.99 L304.17,326.9 L305.2,327.87 L306.23,328.89 L307.26,329.96 L308.29,331.09 L309.32,332.26 L310.35,333.49 L311.38,334.78 L312.41,336.11 L313.44,337.5 L314.47,338.94 L315.5,340.44 L316.53,341.98 L317.56,343.58 L318.59,345.23 L319.62,346.92 L320.65,348.66 L321.68,350.45 L322.71,352.28 L323.73,354.16 L324.76,356.07 L325.79,358.02 L326.82,360 L327.85,362.02 L328.88,364.06 L329.91,366.13 L330.94,368.22 L331.97,370.33 L333,372.45 L334.03,374.59 L335.06,376.72 L336.09,378.86 L337.12,381 L338.15,383.13 L339.18,385.25 L340.21,387.35 L341.24,389.43 L342.27,391.49 L343.3,393.53 L344.33,395.53 L345.36,397.5 L346.39,399.43 L347.42,401.32 L348.45,403.16 L349.48,404.97 L350.51,406.72 L351.54,408.42 L352.57,410.07 L353.6,411.67 L354.63,413.21 L355.66,414.7 L356.69,416.13 L357.72,417.51 L358.75,418.83 L359.78,420.1 L360.81,421.31 L361.84,422.47 L362.87,423.57 L363.9,424.62 L364.93,425.61 L365.96,426.56 L366.99,427.46 L368.02,428.31 L369.05,429.11 L370.08,429.87 L371.11,430.59 L372.14,431.27 L373.17,431.9 L374.2,432.5 L375.23,433.06 L376.26,433.59 L377.29,434.09 L378.32,434.55 L379.35,434.98 L380.38,435.39 L381.41,435.77 L382.44,436.13 L383.47,436.46 L384.5,436.77 L385.53,437.05 L386.56,437.32 L387.59,437.57 L388.62,437.8 L389.65,438.02 L390.68,438.22 L391.71,438.41 L392.74,438.58 L393.77,438.74 L394.8,438.89 L395.83,439.03 L396.86,439.16 L397.89,439.28 L398.92,439.39 L399.94,439.49 L400.97,439.59 L402,439.68 L403.03,439.76 L404.06,439.83 L405.09,439.9 L406.12,439.97 L407.15,440.03 L408.18,440.08 L409.21,440.13 L410.24,440.18 L411.27,440.22 L412.3,440.26 L413.33,440.3 L414.36,440.33 L415.39,440.36 L416.42,440.39 L417.45,440.42 L418.48,440.45 L419.51,440.47 L420.54,440.49 L421.57,440.51 L422.6,440.53 L423.63,440.54 L424.66,440.56 L425.69,440.57 L426.72,440.59 L427.75,440.6 L428.78,440.61 L429.81,440.62 L430.84,440.63 L431.87,440.64 L432.9,440.65 L433.93,440.65 L434.96,440.66 L435.99,440.67 L437.02,440.67 L438.05,440.68" fill="none" stroke="#fa8072" stroke-width="2.45" stroke-linecap="butt" stroke-linejoin="round" stroke-dasharray="8.4 3.95" />
<path d="M284.6,297.53 L285.63,297.57 L286.66,297.64 L287.69,297.74 L288.72,297.87 L289.75,298.02 L290.78,298.2 L291.81,298.39 L292.84,298.6 L293.87,298.84 L294.9,299.1 L295.93,299.39 L296.96,299.71 L297.99,300.06 L299.02,300.44 L300.05,300.87 L301.08,301.33 L302.11,301.85 L303.14,302.42 L304.17,303.05 L305.2,303.75 L306.23,304.51 L307.26,305.35 L308.29,306.28 L309.32,307.3 L310.35,308.42 L311.38,309.65 L312.41,311 L313.44,312.47 L314.47,314.07 L315.5,315.82 L316.53,317.72 L317.56,319.78 L318.59,322.01 L319.62,324.41 L320.65,327 L321.68,329.77 L322.71,332.73 L323.73,335.87 L324.76,339.21 L325.79,342.72 L326.82,346.41 L327.85,350.26 L328.88,354.26 L329.91,358.4 L330.94,362.64 L331.97,366.97 L333,371.35 L334.03,375.77 L335.06,380.19 L336.09,384.57 L337.12,388.89 L338.15,393.12 L339.18,397.22 L340.21,401.17 L341.24,404.95 L342.27,408.54 L343.3,411.92 L344.33,415.09 L345.36,418.03 L346.39,420.74 L347.42,423.23 L348.45,425.5 L349.48,427.55 L350.51,429.4 L351.54,431.06 L352.57,432.53 L353.6,433.84 L354.63,434.99 L355.66,436 L356.69,436.89 L357.72,437.67 L358.75,438.34 L359.78,438.92 L360.81,439.42 L361.84,439.86 L362.87,440.23 L363.9,440.55 L364.93,440.82 L365.96,441.06 L366.99,441.26 L368.02,441.43 L369.05,441.57 L370.08,441.7 L371.11,441.8 L372.14,441.89 L373.17,441.96 L374.2,442.03 L375.23,442.08 L376.26,442.12 L377.29,442.16 L378.32,442.19 L379.35,442.22 L380.38,442.24 L381.41,442.26 L382.44,442.28 L383.47,442.29 L384.5,442.31 L385.53,442.31 L386.56,442.32 L387.59,442.33 L388.62,442.34 L389.65,442.34 L390.68,442.34 L391.71,442.35 L392.74,442.35 L393.77,442.35 L394.8,442.36 L395.83,442.36 L396.86,442.36 L397.89,442.36 L398.92,442.36 L399.94,442.36 L400.97,442.36 L402,442.36 L403.03,442.36 L404.06,442.36 L405.09,442.36 L406.12,442.36 L407.15,442.36 L408.18,442.36 L409.21,442.36 L410.24,442.37 L411.27,442.37 L412.3,442.37 L413.33,442.37 L414.36,442.37 L415.39,442.37 L416.42,442.37 L417.45,442.37 L418.48,442.37 L419.51,442.37 L420.54,442.37 L421.57,442.37 L422.6,442.37 L423.63,442.37 L424.66,442.37 L425.69,442.37 L426.72,442.37 L427.75,442.37 L428.78,442.37 L429.81,442.37 L430.84,442.37 L431.87,442.37 L432.9,442.37 L433.93,442.37 L434.96,442.37 L435.99,442.37 L437.02,442.37 L438.05,442.37" fill="none" stroke="#fa8072" stroke-width="2.45" stroke-linecap="butt" stroke-linejoin="round" />
<line x1="319.1" y1="442.6" x2="348.3" y2="442.6" stroke="#000" stroke-width="1.3" />
<polygon points="315.1,442.6 321.1,439.3 319.9,442.6 321.1,445.9" fill="#000"/>
<polygon points="352.3,442.6 346.3,445.9 347.5,442.6 346.3,439.3" fill="#000"/>
<text x="333.2" y="439" font-size="13" text-anchor="middle" font-style="italic" fill="#1a1a1a" font-family="Liberation Serif">λ</text>
<text x="464.6" y="267.3" font-size="14" font-weight="bold" fill="#000" stroke="#000" stroke-width="0.35" stroke-linejoin="round" font-family="Liberation Sans">f</text>
<polygon points="567.8,310.6 567.8,442.6 600.8,442.6" fill="#d9d9d9"/>
<line x1="510.7" y1="290" x2="510.7" y2="450" stroke="#858585" stroke-width="1" />
<line x1="510.2" y1="449.5" x2="679.9" y2="449.5" stroke="#858585" stroke-width="1" />
<line x1="507.7" y1="443" x2="510.7" y2="443" stroke="#858585" stroke-width="1" />
<text x="503.4" y="447.5" font-size="12.4" text-anchor="end" font-weight="normal" font-style="normal" fill="#000" stroke="#000" stroke-width="0.18" font-family="Liberation Sans" >0.0</text>
<line x1="507.7" y1="407.7" x2="510.7" y2="407.7" stroke="#858585" stroke-width="1" />
<text x="503.4" y="412.2" font-size="12.4" text-anchor="end" font-weight="normal" font-style="normal" fill="#000" stroke="#000" stroke-width="0.18" font-family="Liberation Sans" >0.2</text>
<line x1="507.7" y1="372.4" x2="510.7" y2="372.4" stroke="#858585" stroke-width="1" />
<text x="503.4" y="376.9" font-size="12.4" text-anchor="end" font-weight="normal" font-style="normal" fill="#000" stroke="#000" stroke-width="0.18" font-family="Liberation Sans" >0.4</text>
<line x1="507.7" y1="337.1" x2="510.7" y2="337.1" stroke="#858585" stroke-width="1" />
<text x="503.4" y="341.6" font-size="12.4" text-anchor="end" font-weight="normal" font-style="normal" fill="#000" stroke="#000" stroke-width="0.18" font-family="Liberation Sans" >0.6</text>
<line x1="507.7" y1="301.8" x2="510.7" y2="301.8" stroke="#858585" stroke-width="1" />
<text x="503.4" y="306.3" font-size="12.4" text-anchor="end" font-weight="normal" font-style="normal" fill="#000" stroke="#000" stroke-width="0.18" font-family="Liberation Sans" >0.8</text>
<line x1="518.4" y1="449.5" x2="518.4" y2="452.5" stroke="#858585" stroke-width="1" />
<text x="518.4" y="467.5" font-size="12.4" text-anchor="middle" font-weight="normal" font-style="normal" fill="#000" stroke="#000" stroke-width="0.18" font-family="Liberation Sans" >0</text>
<line x1="569.4" y1="449.5" x2="569.4" y2="452.5" stroke="#858585" stroke-width="1" />
<text x="569.4" y="467.5" font-size="12.4" text-anchor="middle" font-weight="normal" font-style="normal" fill="#000" stroke="#000" stroke-width="0.18" font-family="Liberation Sans" >5</text>
<line x1="620.4" y1="449.5" x2="620.4" y2="452.5" stroke="#858585" stroke-width="1" />
<text x="620.4" y="467.5" font-size="12.4" text-anchor="middle" font-weight="normal" font-style="normal" fill="#000" stroke="#000" stroke-width="0.18" font-family="Liberation Sans" >10</text>
<line x1="671.4" y1="449.5" x2="671.4" y2="452.5" stroke="#858585" stroke-width="1" />
<text x="671.4" y="467.5" font-size="12.4" text-anchor="middle" font-weight="normal" font-style="normal" fill="#000" stroke="#000" stroke-width="0.18" font-family="Liberation Sans" >15</text>
<text transform="translate(475.6,369) rotate(-90)" font-size="12" text-anchor="middle" fill="#000" stroke="#000" stroke-width="0.18" font-family="Liberation Sans">Concentration (a.u.)</text>
<text x="595.5" y="482.6" font-size="12" text-anchor="middle" font-weight="normal" font-style="normal" fill="#000" stroke="#000" stroke-width="0.18" font-family="Liberation Sans" ><tspan font-style="italic">x</tspan> (µm)</text>
<text x="593.8" y="277.6" font-size="12" text-anchor="middle" font-weight="normal" font-style="normal" fill="#000" stroke="#000" stroke-width="0.18" font-family="Liberation Sans" >PAR</text>
<path d="M518.4,439.27 L519.43,439.22 L520.45,439.17 L521.48,439.12 L522.51,439.07 L523.53,439.01 L524.56,438.95 L525.59,438.89 L526.61,438.82 L527.64,438.75 L528.67,438.68 L529.7,438.6 L530.72,438.52 L531.75,438.44 L532.78,438.35 L533.8,438.26 L534.83,438.16 L535.86,438.06 L536.88,437.95 L537.91,437.83 L538.94,437.72 L539.96,437.59 L540.99,437.46 L542.02,437.32 L543.04,437.18 L544.07,437.02 L545.1,436.87 L546.12,436.7 L547.15,436.52 L548.18,436.34 L549.21,436.15 L550.23,435.95 L551.26,435.73 L552.29,435.51 L553.31,435.28 L554.34,435.04 L555.37,434.78 L556.39,434.52 L557.42,434.24 L558.45,433.95 L559.47,433.64 L560.5,433.32 L561.53,432.99 L562.55,432.64 L563.58,432.27 L564.61,431.89 L565.63,431.5 L566.66,431.08 L567.69,430.65 L568.72,430.2 L569.74,429.74 L570.77,429.25 L571.8,428.74 L572.82,428.21 L573.85,427.66 L574.88,427.09 L575.9,426.5 L576.93,425.89 L577.96,425.25 L578.98,424.59 L580.01,423.91 L581.04,423.21 L582.06,422.48 L583.09,421.73 L584.12,420.95 L585.14,420.15 L586.17,419.32 L587.2,418.48 L588.23,417.61 L589.25,416.71 L590.28,415.8 L591.31,414.86 L592.33,413.9 L593.36,412.92 L594.39,411.92 L595.41,410.9 L596.44,409.86 L597.47,408.81 L598.49,407.74 L599.52,406.65 L600.55,405.55 L601.57,404.44 L602.6,403.32 L603.63,402.19 L604.66,401.06 L605.68,399.92 L606.71,398.77 L607.74,397.62 L608.76,396.47 L609.79,395.33 L610.82,394.18 L611.84,393.05 L612.87,391.92 L613.9,390.79 L614.92,389.68 L615.95,388.58 L616.98,387.49 L618,386.42 L619.03,385.36 L620.06,384.32 L621.08,383.3 L622.11,382.3 L623.14,381.32 L624.17,380.36 L625.19,379.43 L626.22,378.51 L627.25,377.62 L628.27,376.76 L629.3,375.92 L630.33,375.1 L631.35,374.31 L632.38,373.54 L633.41,372.8 L634.43,372.08 L635.46,371.39 L636.49,370.73 L637.51,370.08 L638.54,369.47 L639.57,368.87 L640.59,368.3 L641.62,367.75 L642.65,367.23 L643.68,366.72 L644.7,366.24 L645.73,365.78 L646.76,365.33 L647.78,364.91 L648.81,364.51 L649.84,364.12 L650.86,363.75 L651.89,363.4 L652.92,363.07 L653.94,362.75 L654.97,362.45 L656,362.16 L657.02,361.88 L658.05,361.62 L659.08,361.37 L660.1,361.14 L661.13,360.91 L662.16,360.7 L663.19,360.5 L664.21,360.31 L665.24,360.13 L666.27,359.96 L667.29,359.8 L668.32,359.65 L669.35,359.51 L670.37,359.39 L671.4,359.34" fill="none" stroke="#6f93d8" stroke-width="2.45" stroke-linecap="butt" stroke-linejoin="round" stroke-dasharray="2.2 3.95" />
<path d="M518.4,441.35 L519.43,441.34 L520.45,441.33 L521.48,441.32 L522.51,441.3 L523.53,441.29 L524.56,441.28 L525.59,441.26 L526.61,441.25 L527.64,441.23 L528.67,441.21 L529.7,441.19 L530.72,441.17 L531.75,441.14 L532.78,441.12 L533.8,441.09 L534.83,441.06 L535.86,441.02 L536.88,440.98 L537.91,440.94 L538.94,440.9 L539.96,440.85 L540.99,440.8 L542.02,440.74 L543.04,440.68 L544.07,440.62 L545.1,440.54 L546.12,440.46 L547.15,440.38 L548.18,440.29 L549.21,440.19 L550.23,440.08 L551.26,439.96 L552.29,439.84 L553.31,439.7 L554.34,439.55 L555.37,439.39 L556.39,439.21 L557.42,439.03 L558.45,438.82 L559.47,438.6 L560.5,438.37 L561.53,438.11 L562.55,437.83 L563.58,437.54 L564.61,437.22 L565.63,436.88 L566.66,436.51 L567.69,436.11 L568.72,435.68 L569.74,435.23 L570.77,434.74 L571.8,434.22 L572.82,433.66 L573.85,433.07 L574.88,432.43 L575.9,431.75 L576.93,431.03 L577.96,430.27 L578.98,429.46 L580.01,428.6 L581.04,427.69 L582.06,426.73 L583.09,425.72 L584.12,424.66 L585.14,423.54 L586.17,422.37 L587.2,421.14 L588.23,419.86 L589.25,418.52 L590.28,417.13 L591.31,415.68 L592.33,414.18 L593.36,412.63 L594.39,411.04 L595.41,409.39 L596.44,407.7 L597.47,405.97 L598.49,404.2 L599.52,402.39 L600.55,400.56 L601.57,398.69 L602.6,396.8 L603.63,394.9 L604.66,392.98 L605.68,391.04 L606.71,389.11 L607.74,387.17 L608.76,385.24 L609.79,383.31 L610.82,381.4 L611.84,379.5 L612.87,377.63 L613.9,375.78 L614.92,373.95 L615.95,372.16 L616.98,370.41 L618,368.69 L619.03,367.01 L620.06,365.38 L621.08,363.79 L622.11,362.24 L623.14,360.74 L624.17,359.29 L625.19,357.89 L626.22,356.54 L627.25,355.23 L628.27,353.98 L629.3,352.77 L630.33,351.62 L631.35,350.51 L632.38,349.44 L633.41,348.43 L634.43,347.46 L635.46,346.53 L636.49,345.65 L637.51,344.81 L638.54,344.01 L639.57,343.25 L640.59,342.53 L641.62,341.84 L642.65,341.19 L643.68,340.57 L644.7,339.99 L645.73,339.44 L646.76,338.91 L647.78,338.41 L648.81,337.94 L649.84,337.5 L650.86,337.08 L651.89,336.68 L652.92,336.31 L653.94,335.95 L654.97,335.62 L656,335.3 L657.02,335 L658.05,334.71 L659.08,334.44 L660.1,334.18 L661.13,333.94 L662.16,333.7 L663.19,333.48 L664.21,333.27 L665.24,333.08 L666.27,332.9 L667.29,332.73 L668.32,332.59 L669.35,332.47 L670.37,332.39 L671.4,332.36" fill="none" stroke="#6f93d8" stroke-width="2.45" stroke-linecap="butt" stroke-linejoin="round" stroke-dasharray="8.4 3.95" />
<path d="M518.4,441.88 L519.43,441.88 L520.45,441.88 L521.48,441.88 L522.51,441.88 L523.53,441.88 L524.56,441.88 L525.59,441.88 L526.61,441.88 L527.64,441.88 L528.67,441.88 L529.7,441.88 L530.72,441.88 L531.75,441.88 L532.78,441.88 L533.8,441.88 L534.83,441.88 L535.86,441.88 L536.88,441.88 L537.91,441.88 L538.94,441.88 L539.96,441.88 L540.99,441.88 L542.02,441.88 L543.04,441.88 L544.07,441.88 L545.1,441.88 L546.12,441.88 L547.15,441.88 L548.18,441.88 L549.21,441.88 L550.23,441.88 L551.26,441.88 L552.29,441.88 L553.31,441.88 L554.34,441.88 L555.37,441.88 L556.39,441.88 L557.42,441.88 L558.45,441.88 L559.47,441.88 L560.5,441.88 L561.53,441.88 L562.55,441.88 L563.58,441.88 L564.61,441.88 L565.63,441.88 L566.66,441.88 L567.69,441.87 L568.72,441.86 L569.74,441.85 L570.77,441.83 L571.8,441.79 L572.82,441.73 L573.85,441.64 L574.88,441.52 L575.9,441.34 L576.93,441.1 L577.96,440.77 L578.98,440.34 L580.01,439.79 L581.04,439.1 L582.06,438.25 L583.09,437.23 L584.12,436.01 L585.14,434.59 L586.17,432.96 L587.2,431.11 L588.23,429.04 L589.25,426.76 L590.28,424.25 L591.31,421.55 L592.33,418.65 L593.36,415.58 L594.39,412.36 L595.41,408.99 L596.44,405.51 L597.47,401.93 L598.49,398.27 L599.52,394.57 L600.55,390.83 L601.57,387.08 L602.6,383.34 L603.63,379.62 L604.66,375.94 L605.68,372.32 L606.71,368.76 L607.74,365.29 L608.76,361.9 L609.79,358.61 L610.82,355.42 L611.84,352.33 L612.87,349.36 L613.9,346.51 L614.92,343.76 L615.95,341.14 L616.98,338.63 L618,336.24 L619.03,333.96 L620.06,331.79 L621.08,329.73 L622.11,327.78 L623.14,325.93 L624.17,324.18 L625.19,322.52 L626.22,320.96 L627.25,319.49 L628.27,318.1 L629.3,316.79 L630.33,315.56 L631.35,314.4 L632.38,313.31 L633.41,312.29 L634.43,311.33 L635.46,310.43 L636.49,309.58 L637.51,308.79 L638.54,308.05 L639.57,307.35 L640.59,306.7 L641.62,306.1 L642.65,305.53 L643.68,304.99 L644.7,304.5 L645.73,304.03 L646.76,303.59 L647.78,303.19 L648.81,302.81 L649.84,302.45 L650.86,302.12 L651.89,301.81 L652.92,301.52 L653.94,301.24 L654.97,300.99 L656,300.75 L657.02,300.53 L658.05,300.32 L659.08,300.12 L660.1,299.94 L661.13,299.76 L662.16,299.6 L663.19,299.45 L664.21,299.3 L665.24,299.17 L666.27,299.05 L667.29,298.94 L668.32,298.84 L669.35,298.76 L670.37,298.7 L671.4,298.67" fill="none" stroke="#6f93d8" stroke-width="2.45" stroke-linecap="butt" stroke-linejoin="round" />
<path d="M518.4,359.34 L519.43,359.39 L520.45,359.51 L521.48,359.65 L522.51,359.8 L523.53,359.96 L524.56,360.13 L525.59,360.31 L526.61,360.5 L527.64,360.7 L528.67,360.91 L529.7,361.14 L530.72,361.37 L531.75,361.62 L532.78,361.88 L533.8,362.16 L534.83,362.45 L535.86,362.75 L536.88,363.07 L537.91,363.4 L538.94,363.75 L539.96,364.12 L540.99,364.51 L542.02,364.91 L543.04,365.33 L544.07,365.78 L545.1,366.24 L546.12,366.72 L547.15,367.23 L548.18,367.75 L549.21,368.3 L550.23,368.87 L551.26,369.47 L552.29,370.08 L553.31,370.73 L554.34,371.39 L555.37,372.08 L556.39,372.8 L557.42,373.54 L558.45,374.31 L559.47,375.1 L560.5,375.92 L561.53,376.76 L562.55,377.62 L563.58,378.51 L564.61,379.43 L565.63,380.36 L566.66,381.32 L567.69,382.3 L568.72,383.3 L569.74,384.32 L570.77,385.36 L571.8,386.42 L572.82,387.49 L573.85,388.58 L574.88,389.68 L575.9,390.79 L576.93,391.92 L577.96,393.05 L578.98,394.18 L580.01,395.33 L581.04,396.47 L582.06,397.62 L583.09,398.77 L584.12,399.92 L585.14,401.06 L586.17,402.19 L587.2,403.32 L588.23,404.44 L589.25,405.55 L590.28,406.65 L591.31,407.74 L592.33,408.81 L593.36,409.86 L594.39,410.9 L595.41,411.92 L596.44,412.92 L597.47,413.9 L598.49,414.86 L599.52,415.8 L600.55,416.71 L601.57,417.61 L602.6,418.48 L603.63,419.32 L604.66,420.15 L605.68,420.95 L606.71,421.73 L607.74,422.48 L608.76,423.21 L609.79,423.91 L610.82,424.59 L611.84,425.25 L612.87,425.89 L613.9,426.5 L614.92,427.09 L615.95,427.66 L616.98,428.21 L618,428.74 L619.03,429.25 L620.06,429.74 L621.08,430.2 L622.11,430.65 L623.14,431.08 L624.17,431.5 L625.19,431.89 L626.22,432.27 L627.25,432.64 L628.27,432.99 L629.3,433.32 L630.33,433.64 L631.35,433.95 L632.38,434.24 L633.41,434.52 L634.43,434.78 L635.46,435.04 L636.49,435.28 L637.51,435.51 L638.54,435.73 L639.57,435.95 L640.59,436.15 L641.62,436.34 L642.65,436.52 L643.68,436.7 L644.7,436.87 L645.73,437.02 L646.76,437.18 L647.78,437.32 L648.81,437.46 L649.84,437.59 L650.86,437.72 L651.89,437.83 L652.92,437.95 L653.94,438.06 L654.97,438.16 L656,438.26 L657.02,438.35 L658.05,438.44 L659.08,438.52 L660.1,438.6 L661.13,438.68 L662.16,438.75 L663.19,438.82 L664.21,438.89 L665.24,438.95 L666.27,439.01 L667.29,439.07 L668.32,439.12 L669.35,439.17 L670.37,439.22 L671.4,439.27" fill="none" stroke="#fa8072" stroke-width="2.45" stroke-linecap="butt" stroke-linejoin="round" stroke-dasharray="2.2 3.95" />
<path d="M518.4,332.36 L519.43,332.39 L520.45,332.47 L521.48,332.59 L522.51,332.73 L523.53,332.9 L524.56,333.08 L525.59,333.27 L526.61,333.48 L527.64,333.7 L528.67,333.94 L529.7,334.18 L530.72,334.44 L531.75,334.71 L532.78,335 L533.8,335.3 L534.83,335.62 L535.86,335.95 L536.88,336.31 L537.91,336.68 L538.94,337.08 L539.96,337.5 L540.99,337.94 L542.02,338.41 L543.04,338.91 L544.07,339.44 L545.1,339.99 L546.12,340.57 L547.15,341.19 L548.18,341.84 L549.21,342.53 L550.23,343.25 L551.26,344.01 L552.29,344.81 L553.31,345.65 L554.34,346.53 L555.37,347.46 L556.39,348.43 L557.42,349.44 L558.45,350.51 L559.47,351.62 L560.5,352.77 L561.53,353.98 L562.55,355.23 L563.58,356.54 L564.61,357.89 L565.63,359.29 L566.66,360.74 L567.69,362.24 L568.72,363.79 L569.74,365.38 L570.77,367.01 L571.8,368.69 L572.82,370.41 L573.85,372.16 L574.88,373.95 L575.9,375.78 L576.93,377.63 L577.96,379.5 L578.98,381.4 L580.01,383.31 L581.04,385.24 L582.06,387.17 L583.09,389.11 L584.12,391.04 L585.14,392.98 L586.17,394.9 L587.2,396.8 L588.23,398.69 L589.25,400.56 L590.28,402.39 L591.31,404.2 L592.33,405.97 L593.36,407.7 L594.39,409.39 L595.41,411.04 L596.44,412.63 L597.47,414.18 L598.49,415.68 L599.52,417.13 L600.55,418.52 L601.57,419.86 L602.6,421.14 L603.63,422.37 L604.66,423.54 L605.68,424.66 L606.71,425.72 L607.74,426.73 L608.76,427.69 L609.79,428.6 L610.82,429.46 L611.84,430.27 L612.87,431.03 L613.9,431.75 L614.92,432.43 L615.95,433.07 L616.98,433.66 L618,434.22 L619.03,434.74 L620.06,435.23 L621.08,435.68 L622.11,436.11 L623.14,436.51 L624.17,436.88 L625.19,437.22 L626.22,437.54 L627.25,437.83 L628.27,438.11 L629.3,438.37 L630.33,438.6 L631.35,438.82 L632.38,439.03 L633.41,439.21 L634.43,439.39 L635.46,439.55 L636.49,439.7 L637.51,439.84 L638.54,439.96 L639.57,440.08 L640.59,440.19 L641.62,440.29 L642.65,440.38 L643.68,440.46 L644.7,440.54 L645.73,440.62 L646.76,440.68 L647.78,440.74 L648.81,440.8 L649.84,440.85 L650.86,440.9 L651.89,440.94 L652.92,440.98 L653.94,441.02 L654.97,441.06 L656,441.09 L657.02,441.12 L658.05,441.14 L659.08,441.17 L660.1,441.19 L661.13,441.21 L662.16,441.23 L663.19,441.25 L664.21,441.26 L665.24,441.28 L666.27,441.29 L667.29,441.3 L668.32,441.32 L669.35,441.33 L670.37,441.34 L671.4,441.35" fill="none" stroke="#fa8072" stroke-width="2.45" stroke-linecap="butt" stroke-linejoin="round" stroke-dasharray="8.4 3.95" />
<path d="M518.4,298.67 L519.43,298.7 L520.45,298.76 L521.48,298.84 L522.51,298.94 L523.53,299.05 L524.56,299.17 L525.59,299.3 L526.61,299.45 L527.64,299.6 L528.67,299.76 L529.7,299.94 L530.72,300.12 L531.75,300.32 L532.78,300.53 L533.8,300.75 L534.83,300.99 L535.86,301.24 L536.88,301.52 L537.91,301.81 L538.94,302.12 L539.96,302.45 L540.99,302.81 L542.02,303.19 L543.04,303.59 L544.07,304.03 L545.1,304.5 L546.12,304.99 L547.15,305.53 L548.18,306.1 L549.21,306.7 L550.23,307.35 L551.26,308.05 L552.29,308.79 L553.31,309.58 L554.34,310.43 L555.37,311.33 L556.39,312.29 L557.42,313.31 L558.45,314.4 L559.47,315.56 L560.5,316.79 L561.53,318.1 L562.55,319.49 L563.58,320.96 L564.61,322.52 L565.63,324.18 L566.66,325.93 L567.69,327.78 L568.72,329.73 L569.74,331.79 L570.77,333.96 L571.8,336.24 L572.82,338.63 L573.85,341.14 L574.88,343.76 L575.9,346.51 L576.93,349.36 L577.96,352.33 L578.98,355.42 L580.01,358.61 L581.04,361.9 L582.06,365.29 L583.09,368.76 L584.12,372.32 L585.14,375.94 L586.17,379.62 L587.2,383.34 L588.23,387.08 L589.25,390.83 L590.28,394.57 L591.31,398.27 L592.33,401.93 L593.36,405.51 L594.39,408.99 L595.41,412.36 L596.44,415.58 L597.47,418.65 L598.49,421.55 L599.52,424.25 L600.55,426.76 L601.57,429.04 L602.6,431.11 L603.63,432.96 L604.66,434.59 L605.68,436.01 L606.71,437.23 L607.74,438.25 L608.76,439.1 L609.79,439.79 L610.82,440.34 L611.84,440.77 L612.87,441.1 L613.9,441.34 L614.92,441.52 L615.95,441.64 L616.98,441.73 L618,441.79 L619.03,441.83 L620.06,441.85 L621.08,441.86 L622.11,441.87 L623.14,441.88 L624.17,441.88 L625.19,441.88 L626.22,441.88 L627.25,441.88 L628.27,441.88 L629.3,441.88 L630.33,441.88 L631.35,441.88 L632.38,441.88 L633.41,441.88 L634.43,441.88 L635.46,441.88 L636.49,441.88 L637.51,441.88 L638.54,441.88 L639.57,441.88 L640.59,441.88 L641.62,441.88 L642.65,441.88 L643.68,441.88 L644.7,441.88 L645.73,441.88 L646.76,441.88 L647.78,441.88 L648.81,441.88 L649.84,441.88 L650.86,441.88 L651.89,441.88 L652.92,441.88 L653.94,441.88 L654.97,441.88 L656,441.88 L657.02,441.88 L658.05,441.88 L659.08,441.88 L660.1,441.88 L661.13,441.88 L662.16,441.88 L663.19,441.88 L664.21,441.88 L665.24,441.88 L666.27,441.88 L667.29,441.88 L668.32,441.88 L669.35,441.88 L670.37,441.88 L671.4,441.88" fill="none" stroke="#fa8072" stroke-width="2.45" stroke-linecap="butt" stroke-linejoin="round" />
<line x1="569.2" y1="442.6" x2="601" y2="442.6" stroke="#000" stroke-width="1.3" />
<polygon points="565.2,442.6 571.2,439.3 570,442.6 571.2,445.9" fill="#000"/>
<polygon points="605,442.6 599,445.9 600.2,442.6 599,439.3" fill="#000"/>
<text x="585" y="439" font-size="13" text-anchor="middle" font-style="italic" fill="#1a1a1a" font-family="Liberation Serif">λ</text>
<line x1="118" y1="503.6" x2="163" y2="503.6" stroke="#fa8072" stroke-width="2.1" />
<line x1="118" y1="513.4" x2="163" y2="513.4" stroke="#6f93d8" stroke-width="2.1" />
<text x="170" y="512" font-size="12" text-anchor="start" font-weight="normal" font-style="normal" fill="#000" stroke="#000" stroke-width="0.18" font-family="Liberation Sans" >0.025 µm<tspan font-size="8.5" dy="-5.2">2</tspan><tspan dy="5.2"> s</tspan><tspan font-size="8.5" dy="-5.2">−1</tspan></text>
<line x1="289.6" y1="503.6" x2="332.4" y2="503.6" stroke="#fa8072" stroke-width="2.1" stroke-dasharray="8.4 3.95"/>
<line x1="289.6" y1="513.4" x2="332.4" y2="513.4" stroke="#6f93d8" stroke-width="2.1" stroke-dasharray="8.4 3.95"/>
<text x="339.5" y="512" font-size="12" text-anchor="start" font-weight="normal" font-style="normal" fill="#000" stroke="#000" stroke-width="0.18" font-family="Liberation Sans" >0.1 µm<tspan font-size="8.5" dy="-5.2">2</tspan><tspan dy="5.2"> s</tspan><tspan font-size="8.5" dy="-5.2">−1</tspan></text>
<line x1="440.5" y1="503.6" x2="482" y2="503.6" stroke="#fa8072" stroke-width="2.1" stroke-dasharray="2.2 3.95"/>
<line x1="440.5" y1="513.4" x2="482" y2="513.4" stroke="#6f93d8" stroke-width="2.1" stroke-dasharray="2.2 3.95"/>
<text x="488" y="512" font-size="12" text-anchor="start" font-weight="normal" font-style="normal" fill="#000" stroke="#000" stroke-width="0.18" font-family="Liberation Sans" >0.2 µm<tspan font-size="8.5" dy="-5.2">2</tspan><tspan dy="5.2"> s</tspan><tspan font-size="8.5" dy="-5.2">−1</tspan></text>
<text x="-0.3" y="545.3" font-size="15.5" font-weight="bold" fill="#000" stroke="#000" stroke-width="0.35" stroke-linejoin="round" font-family="Liberation Serif">g</text>
<line x1="43.1" y1="551" x2="43.1" y2="710.4" stroke="#858585" stroke-width="1" />
<line x1="42.6" y1="709.9" x2="211.4" y2="709.9" stroke="#858585" stroke-width="1" />
<line x1="40.1" y1="707" x2="43.1" y2="707" stroke="#858585" stroke-width="1" />
<text x="35.8" y="711.5" font-size="12.4" text-anchor="end" font-weight="normal" font-style="normal" fill="#000" stroke="#000" stroke-width="0.18" font-family="Liberation Sans" >10</text>
<line x1="40.1" y1="679" x2="43.1" y2="679" stroke="#858585" stroke-width="1" />
<text x="35.8" y="683.5" font-size="12.4" text-anchor="end" font-weight="normal" font-style="normal" fill="#000" stroke="#000" stroke-width="0.18" font-family="Liberation Sans" >15</text>
<line x1="40.1" y1="651" x2="43.1" y2="651" stroke="#858585" stroke-width="1" />
<text x="35.8" y="655.5" font-size="12.4" text-anchor="end" font-weight="normal" font-style="normal" fill="#000" stroke="#000" stroke-width="0.18" font-family="Liberation Sans" >20</text>
<line x1="40.1" y1="623" x2="43.1" y2="623" stroke="#858585" stroke-width="1" />
<text x="35.8" y="627.5" font-size="12.4" text-anchor="end" font-weight="normal" font-style="normal" fill="#000" stroke="#000" stroke-width="0.18" font-family="Liberation Sans" >25</text>
<line x1="40.1" y1="595" x2="43.1" y2="595" stroke="#858585" stroke-width="1" />
<text x="35.8" y="599.5" font-size="12.4" text-anchor="end" font-weight="normal" font-style="normal" fill="#000" stroke="#000" stroke-width="0.18" font-family="Liberation Sans" >30</text>
<line x1="40.1" y1="567" x2="43.1" y2="567" stroke="#858585" stroke-width="1" />
<text x="35.8" y="571.5" font-size="12.4" text-anchor="end" font-weight="normal" font-style="normal" fill="#000" stroke="#000" stroke-width="0.18" font-family="Liberation Sans" >35</text>
<line x1="116.6" y1="709.9" x2="116.6" y2="712.9" stroke="#858585" stroke-width="1" />
<text x="116.6" y="727.9" font-size="12.4" text-anchor="middle" font-weight="normal" font-style="normal" fill="#000" stroke="#000" stroke-width="0.18" font-family="Liberation Sans" >0.4</text>
<line x1="191.4" y1="709.9" x2="191.4" y2="712.9" stroke="#858585" stroke-width="1" />
<text x="191.4" y="727.9" font-size="12.4" text-anchor="middle" font-weight="normal" font-style="normal" fill="#000" stroke="#000" stroke-width="0.18" font-family="Liberation Sans" >0.6</text>
<text transform="translate(12.5,630.7) rotate(-90)" font-size="12" text-anchor="middle" fill="#000" stroke="#000" stroke-width="0.18" font-family="Liberation Sans"><tspan font-family="Liberation Serif" font-style="italic" font-size="13">λ</tspan> (µm)</text>
<text x="130" y="749" font-size="12" text-anchor="middle" font-weight="normal" font-style="normal" fill="#000" stroke="#000" stroke-width="0.18" font-family="Liberation Sans" ></text>
<path d="M93.3,744.9 L94.3,744.3 L97.3,750.8" fill="none" stroke="#1a1a1a" stroke-width="1.35" stroke-linejoin="miter"/>
<path d="M97.3,750.8 L101.8,736.6 L113,736.6" fill="none" stroke="#1a1a1a" stroke-width="0.8" stroke-linejoin="miter"/>
<text x="102.6" y="748.8" font-size="12" text-anchor="start" font-weight="normal" font-style="normal" fill="#000" stroke="#000" stroke-width="0.18" font-family="Liberation Sans" ><tspan font-style="italic">D</tspan></text>
<text x="115.5" y="748.8" font-size="12" text-anchor="start" font-weight="normal" font-style="normal" fill="#000" stroke="#000" stroke-width="0.18" font-family="Liberation Sans" >(µm</text>
<path d="M140.2,745.9 L141.2,745.3 L144,750.8" fill="none" stroke="#1a1a1a" stroke-width="1.35" stroke-linejoin="miter"/>
<path d="M144,750.8 L148.4,737.6 L155.8,737.6" fill="none" stroke="#1a1a1a" stroke-width="0.8" stroke-linejoin="miter"/>
<text x="148.6" y="748.8" font-size="12" text-anchor="start" font-weight="normal" font-style="normal" fill="#000" stroke="#000" stroke-width="0.18" font-family="Liberation Sans" >s<tspan font-size="8.5" dy="-5.6">−1</tspan><tspan dy="5.6">)</tspan></text>
<path d="M50.4,653.33 L53.53,651.05 L56.66,648.79 L59.79,646.54 L62.92,644.3 L66.05,642.08 L69.18,639.88 L72.31,637.69 L75.44,635.51 L78.57,633.34 L81.7,631.19 L84.83,629.06 L87.95,626.94 L91.08,624.83 L94.21,622.74 L97.34,620.66 L100.47,618.6 L103.6,616.55 L106.73,614.51 L109.86,612.49 L112.99,610.48 L116.12,608.49 L119.25,606.51 L122.38,604.55 L125.51,602.59 L128.64,600.66 L131.77,598.74 L134.9,596.83 L138.02,594.93 L141.15,593.05 L144.28,591.19 L147.41,589.34 L150.54,587.5 L153.67,585.68 L156.8,583.87 L159.93,582.08 L163.06,580.3 L166.19,578.53 L169.32,576.78 L172.45,575.04 L175.58,573.32 L178.71,571.61 L181.84,569.91 L184.97,568.23 L188.1,566.57 L191.22,564.91 L194.35,563.27 L197.48,561.65 L200.61,560.04 L203.74,558.45" fill="none" stroke="#f5891e" stroke-width="1.4" stroke-linecap="butt" stroke-linejoin="round" />
<path d="M50.4,698.12 L53.53,695.9 L56.66,693.68 L59.79,691.45 L62.92,689.2 L66.05,686.95 L69.18,684.69 L72.31,682.42 L75.44,680.14 L78.57,677.84 L81.7,675.54 L84.83,673.23 L87.95,670.91 L91.08,668.58 L94.21,666.24 L97.34,663.89 L100.47,661.53 L103.6,659.17 L106.73,656.79 L109.86,654.4 L112.99,652 L116.12,649.59 L119.25,647.18 L122.38,644.75 L125.51,642.31 L128.64,639.86 L131.77,637.41 L134.9,634.94 L138.02,632.47 L141.15,629.98 L144.28,627.49 L147.41,624.98 L150.54,622.47 L153.67,619.94 L156.8,617.41 L159.93,614.87 L163.06,612.31 L166.19,609.75 L169.32,607.18 L172.45,604.59 L175.58,602 L178.71,599.4 L181.84,596.79 L184.97,594.17 L188.1,591.54 L191.22,588.9 L194.35,586.25 L197.48,583.59 L200.61,580.92 L203.74,578.24" fill="none" stroke="#3d7fc0" stroke-width="1.4" stroke-linecap="butt" stroke-linejoin="round" />
<path d="M50.4,700.11 L53.53,697.94 L56.66,695.76 L59.79,693.57 L62.92,691.38 L66.05,689.18 L69.18,686.97 L72.31,684.75 L75.44,682.53 L78.57,680.31 L81.7,678.07 L84.83,675.83 L87.95,673.58 L91.08,671.33 L94.21,669.07 L97.34,666.8 L100.47,664.53 L103.6,662.25 L106.73,659.96 L109.86,657.67 L112.99,655.37 L116.12,653.06 L119.25,650.75 L122.38,648.43 L125.51,646.1 L128.64,643.77 L131.77,641.43 L134.9,639.08 L138.02,636.73 L141.15,634.37 L144.28,632 L147.41,629.63 L150.54,627.25 L153.67,624.86 L156.8,622.47 L159.93,620.07 L163.06,617.66 L166.19,615.25 L169.32,612.83 L172.45,610.41 L175.58,607.97 L178.71,605.53 L181.84,603.09 L184.97,600.64 L188.1,598.18 L191.22,595.71 L194.35,593.24 L197.48,590.76 L200.61,588.27 L203.74,585.78" fill="none" stroke="#35a535" stroke-width="1.4" stroke-linecap="butt" stroke-linejoin="round" />
<path d="M50.4,703.43 L53.53,701.46 L56.66,699.48 L59.79,697.49 L62.92,695.5 L66.05,693.51 L69.18,691.51 L72.31,689.5 L75.44,687.49 L78.57,685.47 L81.7,683.44 L84.83,681.41 L87.95,679.38 L91.08,677.34 L94.21,675.29 L97.34,673.24 L100.47,671.18 L103.6,669.12 L106.73,667.05 L109.86,664.98 L112.99,662.9 L116.12,660.81 L119.25,658.72 L122.38,656.63 L125.51,654.52 L128.64,652.42 L131.77,650.3 L134.9,648.19 L138.02,646.06 L141.15,643.93 L144.28,641.8 L147.41,639.66 L150.54,637.51 L153.67,635.36 L156.8,633.2 L159.93,631.04 L163.06,628.87 L166.19,626.69 L169.32,624.51 L172.45,622.33 L175.58,620.14 L178.71,617.94 L181.84,615.74 L184.97,613.53 L188.1,611.32 L191.22,609.1 L194.35,606.87 L197.48,604.64 L200.61,602.41 L203.74,600.16" fill="none" stroke="#d33a2f" stroke-width="1.4" stroke-linecap="butt" stroke-linejoin="round" />
<text x="232.6" y="546.2" font-size="14" font-weight="bold" fill="#000" stroke="#000" stroke-width="0.35" stroke-linejoin="round" font-family="Liberation Sans">h</text>
<line x1="275.5" y1="550.4" x2="275.5" y2="710" stroke="#858585" stroke-width="1" />
<line x1="275" y1="709.5" x2="444" y2="709.5" stroke="#858585" stroke-width="1" />
<line x1="272.5" y1="705.6" x2="275.5" y2="705.6" stroke="#858585" stroke-width="1" />
<text x="268.2" y="710.1" font-size="12.4" text-anchor="end" font-weight="normal" font-style="normal" fill="#000" stroke="#000" stroke-width="0.18" font-family="Liberation Sans" >10</text>
<line x1="272.5" y1="654.8" x2="275.5" y2="654.8" stroke="#858585" stroke-width="1" />
<text x="268.2" y="659.3" font-size="12.4" text-anchor="end" font-weight="normal" font-style="normal" fill="#000" stroke="#000" stroke-width="0.18" font-family="Liberation Sans" >20</text>
<line x1="272.5" y1="604" x2="275.5" y2="604" stroke="#858585" stroke-width="1" />
<text x="268.2" y="608.5" font-size="12.4" text-anchor="end" font-weight="normal" font-style="normal" fill="#000" stroke="#000" stroke-width="0.18" font-family="Liberation Sans" >30</text>
<line x1="272.5" y1="553.2" x2="275.5" y2="553.2" stroke="#858585" stroke-width="1" />
<text x="268.2" y="557.7" font-size="12.4" text-anchor="end" font-weight="normal" font-style="normal" fill="#000" stroke="#000" stroke-width="0.18" font-family="Liberation Sans" >40</text>
<line x1="312.4" y1="709.5" x2="312.4" y2="712.5" stroke="#858585" stroke-width="1" />
<text x="312.4" y="727.5" font-size="12.4" text-anchor="middle" font-weight="normal" font-style="normal" fill="#000" stroke="#000" stroke-width="0.18" font-family="Liberation Sans" >1.0</text>
<line x1="362.4" y1="709.5" x2="362.4" y2="712.5" stroke="#858585" stroke-width="1" />
<text x="362.4" y="727.5" font-size="12.4" text-anchor="middle" font-weight="normal" font-style="normal" fill="#000" stroke="#000" stroke-width="0.18" font-family="Liberation Sans" >1.5</text>
<line x1="412.4" y1="709.5" x2="412.4" y2="712.5" stroke="#858585" stroke-width="1" />
<text x="412.4" y="727.5" font-size="12.4" text-anchor="middle" font-weight="normal" font-style="normal" fill="#000" stroke="#000" stroke-width="0.18" font-family="Liberation Sans" >2.0</text>
<text transform="translate(243.6,630) rotate(-90)" font-size="12" text-anchor="middle" fill="#000" stroke="#000" stroke-width="0.18" font-family="Liberation Sans"><tspan font-family="Liberation Serif" font-style="italic" font-size="13">λ</tspan> (µm)</text>
<text x="360" y="749" font-size="12" text-anchor="middle" font-weight="normal" font-style="normal" fill="#000" stroke="#000" stroke-width="0.18" font-family="Liberation Sans" ></text>
<path d="M347.6,744.2 L348.6,743.6 L351.8,750.2" fill="none" stroke="#1a1a1a" stroke-width="1.35" stroke-linejoin="miter"/>
<path d="M351.8,750.2 L356.9,736.3 L372,736.3" fill="none" stroke="#1a1a1a" stroke-width="0.8" stroke-linejoin="miter"/>
<text x="356.6" y="748.8" font-size="12" text-anchor="start" font-weight="normal" font-style="normal" fill="#000" stroke="#000" stroke-width="0.18" font-family="Liberation Sans" ><tspan font-family="Liberation Serif" font-style="italic" font-size="13">α</tspan><tspan font-size="8" dy="-5.5">−1</tspan></text>
<path d="M283,656.99 L286.12,654.6 L289.25,652.21 L292.37,649.85 L295.5,647.5 L298.62,645.16 L301.75,642.84 L304.87,640.54 L308,638.25 L311.12,635.97 L314.24,633.71 L317.37,631.47 L320.49,629.24 L323.62,627.03 L326.74,624.83 L329.87,622.65 L332.99,620.48 L336.12,618.33 L339.24,616.19 L342.37,614.07 L345.49,611.97 L348.61,609.88 L351.74,607.8 L354.86,605.74 L357.99,603.7 L361.11,601.67 L364.24,599.66 L367.36,597.66 L370.49,595.68 L373.61,593.71 L376.73,591.76 L379.86,589.82 L382.98,587.9 L386.11,585.99 L389.23,584.1 L392.36,582.22 L395.48,580.36 L398.61,578.52 L401.73,576.69 L404.86,574.87 L407.98,573.08 L411.1,571.29 L414.23,569.52 L417.35,567.77 L420.48,566.03 L423.6,564.31 L426.73,562.6 L429.85,560.91 L432.98,559.23 L436.1,557.57" fill="none" stroke="#f5891e" stroke-width="1.4" stroke-linecap="butt" stroke-linejoin="round" />
<path d="M283,696.89 L286.12,694.3 L289.25,691.71 L292.37,689.11 L295.5,686.52 L298.62,683.92 L301.75,681.33 L304.87,678.73 L308,676.13 L311.12,673.53 L314.24,670.94 L317.37,668.34 L320.49,665.74 L323.62,663.14 L326.74,660.54 L329.87,657.93 L332.99,655.33 L336.12,652.73 L339.24,650.13 L342.37,647.52 L345.49,644.92 L348.61,642.31 L351.74,639.7 L354.86,637.1 L357.99,634.49 L361.11,631.88 L364.24,629.27 L367.36,626.66 L370.49,624.05 L373.61,621.44 L376.73,618.83 L379.86,616.22 L382.98,613.61 L386.11,610.99 L389.23,608.38 L392.36,605.76 L395.48,603.15 L398.61,600.53 L401.73,597.92 L404.86,595.3 L407.98,592.68 L411.1,590.06 L414.23,587.45 L417.35,584.83 L420.48,582.21 L423.6,579.58 L426.73,576.96 L429.85,574.34 L432.98,571.72 L436.1,569.09" fill="none" stroke="#3d7fc0" stroke-width="1.4" stroke-linecap="butt" stroke-linejoin="round" />
<path d="M283,698.89 L286.12,696.4 L289.25,693.91 L292.37,691.42 L295.5,688.93 L298.62,686.44 L301.75,683.95 L304.87,681.46 L308,678.96 L311.12,676.47 L314.24,673.98 L317.37,671.49 L320.49,669 L323.62,666.51 L326.74,664.02 L329.87,661.53 L332.99,659.03 L336.12,656.54 L339.24,654.05 L342.37,651.56 L345.49,649.07 L348.61,646.58 L351.74,644.09 L354.86,641.6 L357.99,639.1 L361.11,636.61 L364.24,634.12 L367.36,631.63 L370.49,629.14 L373.61,626.65 L376.73,624.16 L379.86,621.66 L382.98,619.17 L386.11,616.68 L389.23,614.19 L392.36,611.7 L395.48,609.21 L398.61,606.72 L401.73,604.23 L404.86,601.73 L407.98,599.24 L411.1,596.75 L414.23,594.26 L417.35,591.77 L420.48,589.28 L423.6,586.79 L426.73,584.3 L429.85,581.8 L432.98,579.31 L436.1,576.82" fill="none" stroke="#35a535" stroke-width="1.4" stroke-linecap="butt" stroke-linejoin="round" />
<path d="M283,702.84 L286.12,700.75 L289.25,698.67 L292.37,696.57 L295.5,694.47 L298.62,692.37 L301.75,690.26 L304.87,688.14 L308,686.02 L311.12,683.89 L314.24,681.76 L317.37,679.62 L320.49,677.48 L323.62,675.33 L326.74,673.17 L329.87,671.01 L332.99,668.85 L336.12,666.68 L339.24,664.5 L342.37,662.32 L345.49,660.13 L348.61,657.93 L351.74,655.74 L354.86,653.53 L357.99,651.32 L361.11,649.1 L364.24,646.88 L367.36,644.65 L370.49,642.42 L373.61,640.18 L376.73,637.94 L379.86,635.69 L382.98,633.44 L386.11,631.18 L389.23,628.91 L392.36,626.64 L395.48,624.36 L398.61,622.08 L401.73,619.79 L404.86,617.49 L407.98,615.2 L411.1,612.89 L414.23,610.58 L417.35,608.26 L420.48,605.94 L423.6,603.61 L426.73,601.28 L429.85,598.94 L432.98,596.6 L436.1,594.25" fill="none" stroke="#d33a2f" stroke-width="1.4" stroke-linecap="butt" stroke-linejoin="round" />
<text x="464.4" y="546.2" font-size="14" font-weight="bold" fill="#000" stroke="#000" stroke-width="0.35" stroke-linejoin="round" font-family="Liberation Sans">i</text>
<line x1="512.5" y1="544.4" x2="512.5" y2="708" stroke="#858585" stroke-width="1" />
<line x1="512" y1="707.5" x2="680.5" y2="707.5" stroke="#858585" stroke-width="1" />
<line x1="509.5" y1="707.6" x2="512.5" y2="707.6" stroke="#858585" stroke-width="1" />
<text x="505.2" y="712.1" font-size="12.4" text-anchor="end" font-weight="normal" font-style="normal" fill="#000" stroke="#000" stroke-width="0.18" font-family="Liberation Sans" >0</text>
<line x1="509.5" y1="680.3" x2="512.5" y2="680.3" stroke="#858585" stroke-width="1" />
<text x="505.2" y="684.8" font-size="12.4" text-anchor="end" font-weight="normal" font-style="normal" fill="#000" stroke="#000" stroke-width="0.18" font-family="Liberation Sans" >0.1</text>
<line x1="509.5" y1="653" x2="512.5" y2="653" stroke="#858585" stroke-width="1" />
<text x="505.2" y="657.5" font-size="12.4" text-anchor="end" font-weight="normal" font-style="normal" fill="#000" stroke="#000" stroke-width="0.18" font-family="Liberation Sans" >0.2</text>
<line x1="509.5" y1="625.7" x2="512.5" y2="625.7" stroke="#858585" stroke-width="1" />
<text x="505.2" y="630.2" font-size="12.4" text-anchor="end" font-weight="normal" font-style="normal" fill="#000" stroke="#000" stroke-width="0.18" font-family="Liberation Sans" >0.3</text>
<line x1="509.5" y1="598.4" x2="512.5" y2="598.4" stroke="#858585" stroke-width="1" />
<text x="505.2" y="602.9" font-size="12.4" text-anchor="end" font-weight="normal" font-style="normal" fill="#000" stroke="#000" stroke-width="0.18" font-family="Liberation Sans" >0.4</text>
<line x1="509.5" y1="571.1" x2="512.5" y2="571.1" stroke="#858585" stroke-width="1" />
<text x="505.2" y="575.6" font-size="12.4" text-anchor="end" font-weight="normal" font-style="normal" fill="#000" stroke="#000" stroke-width="0.18" font-family="Liberation Sans" >0.5</text>
<line x1="509.5" y1="543.8" x2="512.5" y2="543.8" stroke="#858585" stroke-width="1" />
<text x="505.2" y="548.3" font-size="12.4" text-anchor="end" font-weight="normal" font-style="normal" fill="#000" stroke="#000" stroke-width="0.18" font-family="Liberation Sans" >0.6</text>
<line x1="512.6" y1="707.5" x2="512.6" y2="710.5" stroke="#858585" stroke-width="1" />
<text x="512.6" y="725.5" font-size="12.4" text-anchor="middle" font-weight="normal" font-style="normal" fill="#000" stroke="#000" stroke-width="0.18" font-family="Liberation Sans" >0</text>
<line x1="578.8" y1="707.5" x2="578.8" y2="710.5" stroke="#858585" stroke-width="1" />
<text x="578.8" y="725.5" font-size="12.4" text-anchor="middle" font-weight="normal" font-style="normal" fill="#000" stroke="#000" stroke-width="0.18" font-family="Liberation Sans" >50</text>
<line x1="645" y1="707.5" x2="645" y2="710.5" stroke="#858585" stroke-width="1" />
<text x="645" y="725.5" font-size="12.4" text-anchor="middle" font-weight="normal" font-style="normal" fill="#000" stroke="#000" stroke-width="0.18" font-family="Liberation Sans" >100</text>
<text transform="translate(478,626) rotate(-90)" font-size="12" text-anchor="middle" fill="#000" stroke="#000" stroke-width="0.18" font-family="Liberation Sans"><tspan font-family="Liberation Serif" font-style="italic" font-size="13">λ</tspan>/<tspan font-style="italic">L</tspan></text>
<text x="599.5" y="743" font-size="12" text-anchor="middle" font-weight="normal" font-style="normal" fill="#000" stroke="#000" stroke-width="0.18" font-family="Liberation Sans" ><tspan font-style="italic">L</tspan> (µm)</text>
<path d="M532.46,598.67 L539.08,618.33 L552.32,639.9 L565.56,650 L578.8,657.91 L605.28,666.92 L631.76,672.93 L671.48,678.39" fill="none" stroke="#f5891e" stroke-width="1.4" stroke-linecap="butt" stroke-linejoin="round" />
<path d="M532.46,553.36 L539.08,593.76 L552.32,633.07 L565.56,653 L578.8,663.65 L605.28,675.93 L631.76,683.03 L671.48,689.04" fill="none" stroke="#3d7fc0" stroke-width="1.4" stroke-linecap="butt" stroke-linejoin="round" />
<path d="M532.46,570.55 L539.08,598.4 L552.32,636.07 L565.56,653 L578.8,665.01 L605.28,677.02 L631.76,683.85 L671.48,689.58" fill="none" stroke="#35a535" stroke-width="1.4" stroke-linecap="butt" stroke-linejoin="round" />
<path d="M532.46,602.5 L539.08,621.33 L552.32,643.99 L565.56,658.46 L578.8,668.01 L605.28,679.48 L631.76,685.76 L671.48,690.95" fill="none" stroke="#d33a2f" stroke-width="1.4" stroke-linecap="butt" stroke-linejoin="round" />
<line x1="175" y1="771.4" x2="220" y2="771.4" stroke="#3d7fc0" stroke-width="2.4" />
<text x="226.2" y="775.6" font-size="12" text-anchor="start" font-weight="normal" font-style="normal" fill="#000" stroke="#000" stroke-width="0.18" font-family="Liberation Sans" >GOR</text>
<line x1="269.4" y1="771.4" x2="314.4" y2="771.4" stroke="#f5891e" stroke-width="2.4" />
<text x="320.6" y="775.6" font-size="12" text-anchor="start" font-weight="normal" font-style="normal" fill="#000" stroke="#000" stroke-width="0.18" font-family="Liberation Sans" >OT</text>
<line x1="364" y1="771.4" x2="409" y2="771.4" stroke="#35a535" stroke-width="2.4" />
<text x="414.6" y="775.6" font-size="12" text-anchor="start" font-weight="normal" font-style="normal" fill="#000" stroke="#000" stroke-width="0.18" font-family="Liberation Sans" >WP</text>
<line x1="458" y1="771.4" x2="503.6" y2="771.4" stroke="#d33a2f" stroke-width="2.4" />
<text x="510" y="775.6" font-size="12" text-anchor="start" font-weight="normal" font-style="normal" fill="#000" stroke="#000" stroke-width="0.18" font-family="Liberation Sans" >PAR</text>
</svg>
</body></html>
